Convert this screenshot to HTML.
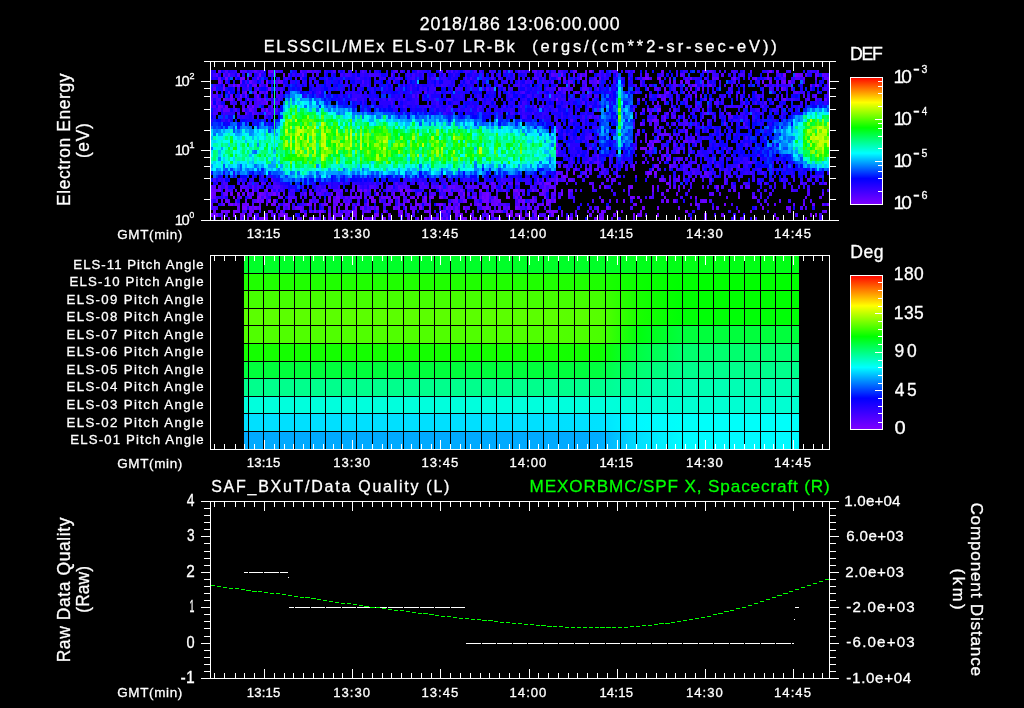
<!DOCTYPE html><html><head><meta charset="utf-8"><style>html,body{margin:0;padding:0;background:#000;overflow:hidden}svg{display:block}text{font-family:"Liberation Sans",Arial,sans-serif;stroke:currentColor;stroke-width:0.3px}</style></head><body>
<svg width="1024" height="708" viewBox="0 0 1024 708">
<rect x="0" y="0" width="1024" height="708" fill="#000"/>
<g shape-rendering="crispEdges">
<path stroke="#7600ff" stroke-width="3" d="M271 71.5h2M589 71.5h3M769 71.5h3M225 78.5h3M240 78.5h5M558 78.5h3M580 78.5h2M645 78.5h4M659 78.5h2M233 85.5h2M237 85.5h3M266 85.5h2M695 85.5h2M815 85.5h2M245 92.5h2M223 99.5h2M556 99.5h2M247 106.5h2M252 106.5h2M654 120.5h3M645 134.5h2M654 141.5h3M640 148.5h7M649 148.5h3M664 155.5h2M652 169.5h2M563 176.5h3M678 176.5h2M546 183.5h3M556 183.5h2M666 183.5h3M240 190.5h2M252 190.5h2M266 190.5h2M360 190.5h2M400 190.5h3M479 190.5h3M515 190.5h3M554 190.5h2M568 190.5h2M652 190.5h2M666 190.5h3M211 197.5h2M233 197.5h2M257 197.5h4M264 197.5h2M328 197.5h3M336 197.5h4M352 197.5h3M371 197.5h3M386 197.5h2M393 197.5h2M398 197.5h2M412 197.5h3M417 197.5h2M424 197.5h3M431 197.5h3M439 197.5h2M482 197.5h2M486 197.5h3M494 197.5h2M506 197.5h4M520 197.5h2M544 197.5h2M630 197.5h3M637 197.5h3M664 197.5h2M695 197.5h2M230 204.5h3M235 204.5h2M247 204.5h2M271 204.5h2M307 204.5h2M314 204.5h2M326 204.5h2M367 204.5h2M403 204.5h2M415 204.5h4M429 204.5h2M439 204.5h4M458 204.5h2M470 204.5h2M496 204.5h2M542 204.5h2M546 204.5h3M635 204.5h2M695 204.5h2M724 204.5h2M221 211.5h2M228 211.5h2M233 211.5h4M252 211.5h2M268 211.5h3M300 211.5h2M314 211.5h2M319 211.5h2M338 211.5h2M352 211.5h5M383 211.5h3M398 211.5h5M427 211.5h2M441 211.5h2M455 211.5h5M465 211.5h2M472 211.5h2M484 211.5h2M491 211.5h3M496 211.5h5M510 211.5h3M532 211.5h2M546 211.5h10M597 211.5h2M601 211.5h3M616 211.5h2M621 211.5h2M640 211.5h2M685 211.5h3M738 211.5h2M750 211.5h2M221 218.5h2M240 218.5h2M247 218.5h2M259 218.5h9M278 218.5h2M285 218.5h3M314 218.5h2M328 218.5h3M333 218.5h3M350 218.5h2M364 218.5h5M371 218.5h3M383 218.5h3M407 218.5h3M417 218.5h2M424 218.5h3M436 218.5h3M463 218.5h4M472 218.5h5M479 218.5h3M498 218.5h3M544 218.5h2M566 218.5h2M570 218.5h3M599 218.5h5M678 218.5h2M776 218.5h3"/>
<path stroke="#7600ff" stroke-width="4" d="M259 75h2M561 75h2M783 75h3M795 75h3M218 82h3M240 82h2M266 82h2M597 82h2M762 82h2M783 82h3M788 82h3M223 89h2M268 89h3M664 89h2M781 89h2M230 96h3M240 96h2M257 96h2M695 96h2M266 103h2M657 103h2M266 110h2M657 110h4M556 131h2M657 138h2M669 138h2M652 145h2M556 152h2M669 166h2M573 173h2M647 173h5M654 173h3M439 187h2M599 187h2M630 187h3M652 187h2M716 187h3M211 194h2M237 194h3M247 194h2M252 194h2M259 194h2M273 194h3M376 194h3M403 194h2M458 194h2M463 194h2M486 194h3M518 194h2M561 194h2M257 201h2M268 201h3M273 201h3M328 201h3M338 201h2M371 201h3M391 201h2M407 201h3M465 201h2M484 201h5M498 201h3M518 201h2M522 201h3M549 201h2M554 201h2M666 201h3M242 208h5M249 208h3M254 208h3M333 208h3M345 208h3M355 208h2M362 208h2M376 208h3M393 208h2M398 208h2M405 208h2M419 208h3M429 208h2M446 208h2M451 208h2M463 208h2M486 208h3M515 208h3M606 208h3M642 208h3M657 208h2M762 208h2M211 215h2M216 215h2M233 215h2M242 215h3M249 215h3M280 215h8M304 215h3M319 215h2M328 215h3M352 215h5M374 215h5M388 215h3M400 215h3M407 215h3M429 215h2M455 215h3M460 215h3M470 215h2M506 215h7M515 215h3M520 215h2M534 215h3M551 215h3M633 215h2M640 215h2M657 215h2M810 215h2M815 215h2"/>
<path stroke="#6900ff" stroke-width="3" d="M218 71.5h3M268 71.5h3M575 71.5h2M585 71.5h2M661 71.5h3M704 71.5h3M776 71.5h3M218 78.5h3M257 78.5h2M657 78.5h2M690 78.5h2M733 78.5h3M755 78.5h2M767 78.5h2M827 78.5h2M223 85.5h2M247 85.5h2M254 85.5h3M688 85.5h2M692 85.5h3M709 85.5h3M731 85.5h2M764 85.5h3M810 85.5h2M817 85.5h2M254 92.5h3M266 92.5h2M666 92.5h3M230 99.5h3M264 99.5h2M664 99.5h2M783 99.5h3M218 106.5h5M225 106.5h3M652 120.5h2M664 120.5h2M659 127.5h2M664 134.5h5M649 141.5h3M657 141.5h2M683 141.5h5M669 155.5h2M659 162.5h2M585 169.5h2M597 169.5h2M633 169.5h2M580 176.5h2M587 176.5h2M609 176.5h2M616 176.5h2M491 183.5h3M544 183.5h2M549 183.5h2M211 190.5h5M218 190.5h3M271 190.5h2M364 190.5h3M374 190.5h2M405 190.5h5M429 190.5h2M443 190.5h3M448 190.5h3M460 190.5h3M513 190.5h2M532 190.5h2M537 190.5h2M542 190.5h2M561 190.5h2M357 197.5h3M369 197.5h2M381 197.5h5M388 197.5h3M429 197.5h2M441 197.5h2M472 197.5h5M484 197.5h2M515 197.5h3M532 197.5h2M633 197.5h2M738 197.5h2M752 197.5h3M805 197.5h2M223 204.5h2M242 204.5h5M266 204.5h2M273 204.5h3M285 204.5h5M309 204.5h3M324 204.5h2M336 204.5h2M340 204.5h3M345 204.5h5M386 204.5h5M398 204.5h2M427 204.5h2M448 204.5h3M477 204.5h2M486 204.5h3M491 204.5h5M527 204.5h3M690 204.5h2M803 204.5h2M812 204.5h3M827 204.5h2M213 211.5h3M223 211.5h5M249 211.5h3M276 211.5h2M280 211.5h3M321 211.5h3M348 211.5h2M367 211.5h2M412 211.5h3M424 211.5h3M429 211.5h2M443 211.5h3M506 211.5h2M556 211.5h2M561 211.5h2M575 211.5h2M592 211.5h2M824 211.5h3M228 218.5h2M252 218.5h5M309 218.5h3M441 218.5h2M446 218.5h2M460 218.5h3M486 218.5h3M494 218.5h2M520 218.5h2M530 218.5h2M546 218.5h3M594 218.5h3M633 218.5h2M690 218.5h2M704 218.5h3M805 218.5h2"/>
<path stroke="#6900ff" stroke-width="4" d="M228 75h2M283 75h2M580 75h2M585 75h2M645 75h2M767 75h2M798 75h5M815 75h2M822 75h2M249 82h3M278 82h5M568 82h2M669 82h2M680 82h3M685 82h3M702 82h2M769 82h3M558 89h3M647 89h2M690 89h2M245 96h2M271 96h2M659 96h2M700 96h2M211 103h2M242 110h3M249 110h3M647 110h2M664 117h2M640 124h2M724 124h2M637 131h3M685 131h3M645 138h2M556 145h2M652 159h2M666 159h3M633 166h2M654 166h3M556 173h2M704 173h3M556 180h2M568 180h2M659 180h5M448 187h3M453 187h2M494 187h2M501 187h2M592 187h2M604 187h2M628 187h2M669 187h2M678 187h2M683 187h2M213 194h3M225 194h3M230 194h3M261 194h3M278 194h2M331 194h2M336 194h2M360 194h2M393 194h2M417 194h2M482 194h4M506 194h2M542 194h2M568 194h2M676 194h2M225 201h3M261 201h3M333 201h5M367 201h2M374 201h2M398 201h2M415 201h2M424 201h3M455 201h3M463 201h2M482 201h2M494 201h4M532 201h2M546 201h3M601 201h3M623 201h2M640 201h2M673 201h3M702 201h5M237 208h3M259 208h2M288 208h2M295 208h7M338 208h2M371 208h3M410 208h2M439 208h2M455 208h3M482 208h4M498 208h3M508 208h2M518 208h2M527 208h3M537 208h2M597 208h2M678 208h2M716 208h3M786 208h5M213 215h3M240 215h2M333 215h3M362 215h2M491 215h3M518 215h2M527 215h3M589 215h3M601 215h3M613 215h3M704 215h3M721 215h3"/>
<path stroke="#5c00ff" stroke-width="3" d="M240 71.5h2M254 71.5h3M300 71.5h2M307 71.5h2M395 71.5h3M446 71.5h2M534 71.5h3M709 71.5h3M817 71.5h2M300 78.5h2M563 78.5h3M599 78.5h2M642 78.5h3M669 78.5h2M712 78.5h2M716 78.5h3M803 78.5h2M815 78.5h2M824 78.5h3M252 85.5h2M259 85.5h2M556 85.5h2M573 85.5h2M585 85.5h2M702 85.5h2M707 85.5h2M216 92.5h2M228 92.5h2M259 92.5h2M556 92.5h2M575 92.5h2M683 92.5h2M688 92.5h2M692 92.5h3M738 92.5h2M795 92.5h3M247 99.5h2M257 99.5h4M661 99.5h3M683 99.5h2M824 99.5h3M271 106.5h2M654 106.5h3M695 106.5h2M745 106.5h3M786 106.5h2M245 113.5h2M252 113.5h2M268 113.5h3M649 113.5h3M666 113.5h3M704 113.5h3M728 113.5h3M657 120.5h2M654 127.5h3M659 134.5h5M695 134.5h2M645 141.5h2M692 141.5h3M589 148.5h3M635 148.5h2M666 148.5h3M678 148.5h2M597 155.5h2M597 162.5h2M642 162.5h3M673 162.5h3M678 162.5h2M575 169.5h2M566 176.5h2M635 176.5h2M647 176.5h2M669 176.5h2M707 176.5h2M724 176.5h2M422 183.5h2M508 183.5h2M539 183.5h3M589 183.5h3M724 183.5h2M824 183.5h3M216 190.5h2M225 190.5h3M247 190.5h2M276 190.5h2M309 190.5h3M324 190.5h2M340 190.5h3M357 190.5h3M410 190.5h2M439 190.5h2M446 190.5h2M496 190.5h2M520 190.5h5M544 190.5h2M570 190.5h3M628 190.5h2M678 190.5h2M688 190.5h2M733 190.5h3M213 197.5h3M240 197.5h2M249 197.5h3M278 197.5h5M288 197.5h2M345 197.5h3M350 197.5h2M360 197.5h2M395 197.5h3M410 197.5h2M455 197.5h3M460 197.5h3M568 197.5h2M649 197.5h3M726 197.5h2M755 197.5h2M819 197.5h3M211 204.5h2M237 204.5h3M259 204.5h2M278 204.5h2M283 204.5h2M333 204.5h3M357 204.5h3M419 204.5h3M436 204.5h3M479 204.5h3M518 204.5h2M522 204.5h3M537 204.5h2M633 204.5h2M767 204.5h2M774 204.5h2M793 204.5h2M822 204.5h2M237 211.5h3M302 211.5h2M309 211.5h3M343 211.5h2M489 211.5h2M501 211.5h2M534 211.5h3M587 211.5h2M604 211.5h2M788 211.5h3M288 218.5h2M297 218.5h5M312 218.5h2M343 218.5h2M369 218.5h2M429 218.5h5M537 218.5h2M733 218.5h3M743 218.5h2"/>
<path stroke="#5c00ff" stroke-width="4" d="M216 75h2M223 75h2M237 75h3M273 75h3M302 75h2M391 75h2M551 75h3M573 75h2M680 75h3M721 75h3M805 75h2M824 75h3M659 82h2M673 82h3M688 82h2M707 82h2M776 82h3M781 82h2M827 82h2M213 89h3M657 89h2M697 89h3M702 89h2M664 96h2M803 96h2M815 96h2M276 103h2M218 110h3M223 110h7M261 110h3M597 110h2M652 110h2M673 117h3M678 117h2M683 117h2M743 124h2M664 131h2M647 145h2M673 145h3M666 152h3M676 152h4M669 159h2M657 166h2M738 166h2M566 173h2M585 173h2M537 180h2M542 180h2M570 180h3M611 180h5M669 180h2M676 180h4M692 180h3M211 187h5M218 187h3M225 187h3M240 187h2M252 187h2M391 187h2M398 187h2M405 187h2M451 187h2M467 187h3M477 187h2M484 187h5M544 187h2M549 187h7M657 187h2M702 187h2M748 187h2M223 194h2M242 194h3M264 194h2M268 194h5M304 194h3M309 194h3M319 194h2M338 194h2M355 194h2M419 194h3M448 194h5M467 194h3M539 194h3M554 194h2M661 194h3M712 194h2M719 194h2M822 194h2M216 201h2M221 201h2M228 201h2M245 201h2M259 201h2M290 201h2M309 201h3M343 201h2M348 201h2M379 201h2M388 201h3M403 201h2M422 201h2M453 201h2M491 201h3M520 201h2M530 201h2M609 201h2M661 201h3M700 201h2M779 201h2M252 208h2M257 208h2M283 208h2M314 208h2M328 208h3M360 208h2M395 208h3M412 208h3M448 208h3M467 208h3M489 208h2M503 208h3M257 215h2M266 215h2M271 215h2M336 215h7M345 215h5M486 215h3M525 215h2M561 215h2M599 215h2M637 215h3M774 215h2"/>
<path stroke="#4f00ff" stroke-width="3" d="M225 71.5h3M245 71.5h2M276 71.5h2M309 71.5h3M314 71.5h2M333 71.5h3M362 71.5h2M417 71.5h2M439 71.5h2M451 71.5h2M474 71.5h3M489 71.5h2M503 71.5h3M518 71.5h2M546 71.5h3M558 71.5h3M573 71.5h2M599 71.5h2M613 71.5h3M628 71.5h2M633 71.5h2M750 71.5h2M247 78.5h2M398 78.5h2M470 78.5h2M491 78.5h3M534 78.5h5M585 78.5h2M594 78.5h3M628 78.5h2M649 78.5h3M685 78.5h3M714 78.5h2M731 78.5h2M752 78.5h3M781 78.5h2M795 78.5h5M228 85.5h2M498 85.5h3M568 85.5h2M635 85.5h2M640 85.5h2M673 85.5h5M736 85.5h2M776 85.5h3M827 85.5h2M242 92.5h3M261 92.5h3M280 92.5h3M319 92.5h2M424 92.5h3M522 92.5h3M563 92.5h3M568 92.5h2M589 92.5h3M635 92.5h2M676 92.5h2M731 92.5h2M755 92.5h2M793 92.5h2M211 99.5h2M218 99.5h3M225 99.5h5M237 99.5h3M268 99.5h3M278 99.5h2M355 99.5h2M388 99.5h3M592 99.5h2M637 99.5h3M642 99.5h3M704 99.5h3M740 99.5h3M774 99.5h2M807 99.5h3M815 99.5h2M213 106.5h3M233 106.5h2M242 106.5h3M257 106.5h2M520 106.5h2M534 106.5h3M542 106.5h2M566 106.5h2M589 106.5h3M671 106.5h2M690 106.5h2M707 106.5h2M762 106.5h2M237 113.5h3M640 113.5h2M671 113.5h2M683 113.5h2M570 120.5h3M647 120.5h2M683 120.5h2M683 127.5h2M597 134.5h2M637 134.5h3M652 134.5h2M678 134.5h2M652 141.5h2M659 141.5h2M678 141.5h2M652 148.5h2M683 148.5h2M731 148.5h2M642 155.5h3M661 155.5h3M587 162.5h2M594 162.5h3M621 162.5h2M695 162.5h2M712 162.5h2M748 162.5h4M589 169.5h3M594 169.5h3M604 169.5h2M657 169.5h2M676 169.5h2M683 169.5h2M731 169.5h2M556 176.5h2M561 176.5h2M604 176.5h2M654 176.5h3M688 176.5h2M695 176.5h2M700 176.5h2M223 183.5h2M261 183.5h3M395 183.5h3M403 183.5h2M446 183.5h2M455 183.5h3M472 183.5h2M484 183.5h2M494 183.5h2M503 183.5h3M510 183.5h3M518 183.5h2M592 183.5h2M601 183.5h3M669 183.5h2M690 183.5h2M800 183.5h3M805 183.5h2M235 190.5h2M245 190.5h2M257 190.5h2M264 190.5h2M321 190.5h3M333 190.5h7M352 190.5h3M369 190.5h2M386 190.5h5M398 190.5h2M453 190.5h7M503 190.5h3M518 190.5h2M546 190.5h3M728 190.5h3M791 190.5h2M807 190.5h3M290 197.5h5M300 197.5h2M314 197.5h2M333 197.5h3M355 197.5h2M364 197.5h3M446 197.5h2M463 197.5h2M479 197.5h3M496 197.5h2M551 197.5h3M558 197.5h3M599 197.5h2M690 197.5h2M228 204.5h2M233 204.5h2M252 204.5h2M321 204.5h3M352 204.5h3M383 204.5h3M424 204.5h3M453 204.5h2M474 204.5h3M501 204.5h5M515 204.5h3M539 204.5h3M549 204.5h2M697 204.5h3M760 204.5h2M271 211.5h2M328 211.5h3M333 211.5h3M345 211.5h3M362 211.5h5M369 211.5h2M405 211.5h2M448 211.5h3M453 211.5h2M494 211.5h2M520 211.5h2M822 211.5h2M319 218.5h2M324 218.5h2M355 218.5h2M374 218.5h2M427 218.5h2M455 218.5h3M522 218.5h3M534 218.5h3M568 218.5h2M611 218.5h2M740 218.5h3M755 218.5h2"/>
<path stroke="#4f00ff" stroke-width="4" d="M249 75h3M288 75h2M312 75h2M554 75h4M616 75h2M647 75h2M661 75h3M740 75h3M817 75h2M261 82h3M273 82h3M362 82h2M393 82h2M563 82h3M570 82h3M582 82h3M589 82h3M594 82h3M640 82h2M257 89h2M486 89h3M563 89h5M582 89h7M597 89h2M654 89h3M685 89h3M769 89h3M783 89h3M791 89h2M213 96h5M221 96h2M276 96h2M412 96h3M417 96h2M587 96h2M645 96h2M657 96h2M690 96h2M736 96h2M748 96h2M781 96h2M216 103h2M249 103h3M257 103h2M261 103h5M273 103h3M278 103h2M582 103h3M652 103h2M664 103h2M695 103h2M714 103h5M743 103h2M764 103h3M235 110h2M252 110h2M276 110h2M477 110h2M633 110h2M642 110h3M669 110h2M673 110h3M702 110h2M724 110h2M264 117h2M589 117h3M597 117h2M654 117h3M714 117h2M728 117h5M649 124h3M654 124h5M673 124h3M685 124h3M695 124h2M702 124h2M556 138h2M589 138h3M635 138h2M671 138h2M692 138h3M695 145h2M700 145h2M659 152h2M690 152h2M726 152h2M589 159h3M597 159h2M657 159h2M661 159h3M678 159h2M685 159h3M695 159h2M558 166h3M566 166h2M589 166h3M597 166h2M609 166h2M671 166h5M558 173h5M582 173h3M601 173h3M616 173h2M692 173h3M707 173h2M724 173h2M271 180h2M551 180h3M563 180h3M573 180h2M606 180h3M664 180h2M683 180h2M709 180h3M724 180h2M807 180h3M242 187h5M257 187h2M273 187h7M352 187h3M357 187h3M369 187h5M388 187h3M400 187h3M419 187h3M424 187h3M431 187h3M436 187h3M441 187h2M455 187h5M470 187h7M482 187h2M491 187h3M530 187h2M673 187h3M740 187h3M745 187h3M283 194h2M316 194h3M350 194h2M400 194h3M407 194h3M431 194h5M489 194h2M513 194h5M544 194h2M551 194h3M652 194h2M709 194h3M738 194h2M769 194h3M807 194h3M235 201h2M254 201h3M288 201h2M316 201h3M324 201h2M451 201h2M474 201h3M534 201h3M551 201h3M592 201h2M616 201h2M803 201h2M810 201h2M213 208h3M302 208h2M367 208h2M415 208h2M465 208h2M506 208h2M530 208h2M534 208h3M544 208h2M609 208h2M630 208h3M712 208h2M800 208h3M805 208h2M221 215h2M225 215h3M273 215h3M398 215h2M443 215h5M542 215h2M575 215h2M645 215h2"/>
<path stroke="#4200ff" stroke-width="3" d="M242 71.5h3M252 71.5h2M257 71.5h2M261 71.5h3M273 71.5h3M316 71.5h3M393 71.5h2M400 71.5h3M441 71.5h2M465 71.5h5M479 71.5h3M494 71.5h2M510 71.5h3M522 71.5h3M532 71.5h2M539 71.5h3M561 71.5h2M712 71.5h2M719 71.5h2M724 71.5h2M731 71.5h5M743 71.5h2M767 71.5h2M788 71.5h3M810 71.5h2M285 78.5h3M295 78.5h2M357 78.5h3M395 78.5h3M412 78.5h3M431 78.5h5M465 78.5h2M498 78.5h3M518 78.5h2M556 78.5h2M637 78.5h3M704 78.5h3M748 78.5h2M769 78.5h3M783 78.5h3M213 85.5h3M230 85.5h3M235 85.5h2M283 85.5h2M367 85.5h2M374 85.5h2M403 85.5h2M441 85.5h2M515 85.5h5M594 85.5h3M649 85.5h3M661 85.5h3M724 85.5h2M743 85.5h2M772 85.5h2M788 85.5h3M276 92.5h2M360 92.5h2M508 92.5h2M520 92.5h2M577 92.5h3M582 92.5h3M664 92.5h2M714 92.5h2M743 92.5h2M798 92.5h2M803 92.5h2M827 92.5h2M216 99.5h2M240 99.5h2M254 99.5h3M261 99.5h3M352 99.5h3M403 99.5h2M434 99.5h2M448 99.5h3M467 99.5h3M479 99.5h3M551 99.5h3M568 99.5h2M580 99.5h2M671 99.5h2M690 99.5h2M709 99.5h3M757 99.5h3M781 99.5h2M791 99.5h2M805 99.5h2M211 106.5h2M249 106.5h3M254 106.5h3M395 106.5h3M403 106.5h2M429 106.5h2M448 106.5h3M479 106.5h3M503 106.5h3M700 106.5h2M724 106.5h2M728 106.5h5M736 106.5h2M776 106.5h5M213 113.5h5M223 113.5h2M254 113.5h5M266 113.5h2M443 113.5h3M510 113.5h3M518 113.5h2M532 113.5h2M635 113.5h2M709 113.5h3M736 113.5h2M228 120.5h2M556 120.5h2M649 120.5h3M685 120.5h3M700 120.5h2M707 120.5h2M714 120.5h2M556 127.5h2M690 127.5h2M745 127.5h3M563 134.5h3M589 134.5h3M673 134.5h3M685 134.5h3M587 141.5h2M640 141.5h2M688 141.5h4M661 148.5h3M676 148.5h2M688 148.5h2M724 148.5h2M556 155.5h2M577 155.5h3M621 155.5h2M724 155.5h2M757 155.5h3M556 162.5h2M585 162.5h2M599 162.5h2M647 162.5h2M683 162.5h2M690 162.5h2M568 169.5h2M573 169.5h2M611 169.5h2M616 169.5h2M625 169.5h3M659 169.5h2M690 169.5h5M712 169.5h2M719 169.5h2M724 169.5h4M772 169.5h2M577 176.5h3M702 176.5h5M728 176.5h3M819 176.5h3M225 183.5h3M247 183.5h5M264 183.5h2M273 183.5h3M340 183.5h3M374 183.5h2M381 183.5h2M419 183.5h3M467 183.5h3M482 183.5h2M515 183.5h3M537 183.5h2M566 183.5h2M575 183.5h2M611 183.5h2M618 183.5h3M731 183.5h2M743 183.5h2M760 183.5h2M764 183.5h3M774 183.5h2M819 183.5h3M228 190.5h5M280 190.5h3M290 190.5h5M316 190.5h3M350 190.5h2M367 190.5h2M379 190.5h2M393 190.5h2M412 190.5h3M491 190.5h3M534 190.5h3M575 190.5h2M592 190.5h2M611 190.5h2M623 190.5h2M757 190.5h3M764 190.5h3M827 190.5h2M223 197.5h2M237 197.5h3M261 197.5h3M266 197.5h2M295 197.5h2M319 197.5h2M340 197.5h3M348 197.5h2M403 197.5h4M489 197.5h2M645 197.5h2M652 197.5h2M680 197.5h3M760 197.5h2M221 204.5h2M304 204.5h3M364 204.5h3M455 204.5h3M498 204.5h3M532 204.5h2M731 204.5h2M245 211.5h2M316 211.5h3M376 211.5h3M477 211.5h2M213 218.5h3M273 218.5h3M345 218.5h3M381 218.5h2M388 218.5h3M434 218.5h2M513 218.5h2M618 218.5h3M819 218.5h3"/>
<path stroke="#4200ff" stroke-width="4" d="M213 75h3M268 75h3M316 75h3M340 75h3M345 75h5M369 75h10M412 75h3M434 75h2M443 75h3M482 75h2M491 75h3M498 75h3M513 75h2M534 75h3M539 75h3M582 75h3M599 75h2M604 75h2M683 75h2M712 75h4M743 75h2M779 75h2M827 75h2M221 82h2M225 82h3M245 82h2M252 82h2M271 82h2M276 82h2M467 82h3M474 82h3M506 82h2M518 82h2M525 82h2M530 82h2M537 82h2M542 82h2M551 82h3M585 82h2M592 82h2M613 82h3M719 82h2M733 82h3M738 82h2M793 82h2M803 82h2M237 89h3M247 89h2M276 89h2M280 89h3M410 89h2M434 89h2M455 89h5M482 89h2M491 89h3M503 89h3M546 89h3M554 89h2M568 89h5M673 89h3M728 89h3M776 89h3M824 89h3M211 96h2M254 96h3M264 96h2M278 96h2M527 96h3M544 96h2M551 96h3M594 96h5M649 96h3M661 96h3M676 96h2M724 96h2M757 96h3M762 96h2M776 96h3M812 96h3M827 96h2M230 103h3M242 103h3M254 103h3M259 103h2M391 103h2M436 103h3M522 103h3M597 103h2M676 103h2M685 103h3M755 103h2M216 110h2M271 110h5M446 110h2M522 110h3M556 110h2M697 110h3M757 110h3M271 117h2M522 117h3M582 117h3M594 117h3M661 117h3M671 117h2M702 117h2M633 124h2M642 124h3M678 124h2M683 124h2M731 124h2M707 131h2M577 138h3M585 138h4M676 138h2M685 138h3M745 138h3M649 145h3M745 145h3M587 152h2M645 152h2M649 152h3M716 152h3M609 159h2M676 159h2M680 159h3M712 159h2M563 166h3M601 166h3M621 166h2M630 166h3M683 166h7M697 166h3M716 166h3M589 173h3M645 173h2M685 173h3M709 173h3M750 173h2M762 173h2M213 180h3M223 180h2M240 180h2M348 180h2M501 180h2M549 180h2M554 180h2M561 180h2M673 180h3M702 180h2M726 180h2M781 180h2M793 180h2M815 180h2M247 187h2M259 187h2M266 187h2M319 187h2M328 187h3M338 187h2M374 187h2M381 187h2M386 187h2M403 187h2M407 187h3M422 187h2M427 187h2M434 187h2M446 187h2M542 187h2M546 187h3M606 187h3M707 187h2M721 187h3M733 187h3M783 187h3M791 187h2M798 187h2M249 194h3M257 194h2M288 194h2M300 194h2M312 194h2M321 194h3M340 194h3M364 194h5M391 194h2M429 194h2M441 194h2M460 194h3M474 194h3M479 194h3M496 194h2M522 194h3M628 194h2M752 194h3M211 201h2M252 201h2M295 201h2M302 201h2M345 201h3M357 201h3M405 201h2M460 201h3M477 201h2M515 201h3M709 201h3M757 201h3M764 201h3M211 208h2M216 208h2M276 208h2M285 208h3M292 208h3M369 208h2M374 208h2M453 208h2M458 208h2M494 208h2M520 208h5M549 208h2M589 208h3M594 208h3M755 208h2M247 215h2M264 215h2M278 215h2M412 215h3M436 215h3M458 215h2M472 215h2M482 215h2M539 215h3M544 215h2M570 215h3M688 215h2M795 215h3M819 215h3"/>
<path stroke="#3500ff" stroke-width="3" d="M235 71.5h2M249 71.5h3M259 71.5h2M278 71.5h5M302 71.5h5M312 71.5h2M324 71.5h2M338 71.5h2M343 71.5h2M348 71.5h4M355 71.5h2M360 71.5h2M364 71.5h3M374 71.5h2M407 71.5h3M419 71.5h3M455 71.5h3M520 71.5h2M527 71.5h3M542 71.5h2M551 71.5h5M592 71.5h2M611 71.5h2M616 71.5h2M621 71.5h2M625 71.5h3M645 71.5h2M676 71.5h2M683 71.5h2M702 71.5h2M736 71.5h2M786 71.5h2M812 71.5h3M235 78.5h2M278 78.5h2M312 78.5h2M326 78.5h2M355 78.5h2M374 78.5h2M379 78.5h2M383 78.5h3M388 78.5h3M410 78.5h2M427 78.5h2M441 78.5h5M482 78.5h2M506 78.5h2M513 78.5h2M542 78.5h2M549 78.5h2M568 78.5h2M573 78.5h2M577 78.5h3M604 78.5h2M621 78.5h2M688 78.5h2M695 78.5h2M764 78.5h3M791 78.5h4M800 78.5h3M261 85.5h3M316 85.5h3M343 85.5h5M360 85.5h4M391 85.5h2M410 85.5h2M415 85.5h2M431 85.5h3M436 85.5h3M443 85.5h5M453 85.5h2M463 85.5h2M470 85.5h2M501 85.5h2M513 85.5h2M522 85.5h3M539 85.5h3M582 85.5h3M592 85.5h2M645 85.5h2M714 85.5h2M719 85.5h2M781 85.5h7M211 92.5h2M252 92.5h2M264 92.5h2M309 92.5h3M316 92.5h3M345 92.5h5M352 92.5h3M417 92.5h2M429 92.5h5M436 92.5h5M498 92.5h3M539 92.5h5M549 92.5h2M561 92.5h2M609 92.5h2M637 92.5h3M695 92.5h2M762 92.5h2M772 92.5h2M800 92.5h3M817 92.5h2M233 99.5h2M273 99.5h3M362 99.5h2M369 99.5h2M374 99.5h2M383 99.5h3M391 99.5h4M398 99.5h2M415 99.5h4M429 99.5h2M446 99.5h2M451 99.5h2M491 99.5h3M496 99.5h2M513 99.5h2M525 99.5h2M537 99.5h2M561 99.5h5M573 99.5h2M587 99.5h2M676 99.5h2M685 99.5h3M716 99.5h3M721 99.5h3M750 99.5h2M786 99.5h2M793 99.5h2M819 99.5h3M268 106.5h3M391 106.5h2M405 106.5h2M424 106.5h3M436 106.5h3M472 106.5h2M477 106.5h2M484 106.5h2M496 106.5h2M513 106.5h2M522 106.5h3M530 106.5h2M539 106.5h3M549 106.5h2M563 106.5h3M633 106.5h2M657 106.5h2M733 106.5h3M738 106.5h5M750 106.5h2M798 106.5h2M225 113.5h5M247 113.5h2M271 113.5h5M501 113.5h2M513 113.5h2M522 113.5h3M542 113.5h4M561 113.5h2M570 113.5h3M585 113.5h2M592 113.5h2M692 113.5h3M702 113.5h2M712 113.5h2M721 113.5h3M740 113.5h5M748 113.5h2M760 113.5h2M781 113.5h2M223 120.5h2M582 120.5h3M597 120.5h2M661 120.5h3M695 120.5h2M724 120.5h2M733 120.5h5M745 120.5h3M558 127.5h3M573 127.5h2M592 127.5h5M633 127.5h2M661 127.5h3M688 127.5h2M697 127.5h3M712 127.5h2M568 134.5h2M587 134.5h2M669 134.5h2M712 134.5h2M719 134.5h2M582 141.5h3M594 141.5h3M635 141.5h2M669 141.5h2M673 141.5h3M740 141.5h3M558 148.5h3M573 148.5h2M673 148.5h3M728 148.5h3M563 155.5h3M594 155.5h3M609 155.5h4M695 155.5h2M700 155.5h4M731 155.5h2M558 162.5h3M570 162.5h3M609 162.5h2M623 162.5h2M635 162.5h2M664 162.5h2M692 162.5h3M707 162.5h2M740 162.5h3M745 162.5h3M752 162.5h3M772 162.5h2M776 162.5h3M781 162.5h2M577 169.5h3M587 169.5h2M601 169.5h3M669 169.5h2M678 169.5h2M685 169.5h3M695 169.5h5M702 169.5h2M738 169.5h5M757 169.5h3M767 169.5h2M783 169.5h3M261 176.5h3M554 176.5h2M661 176.5h3M683 176.5h2M690 176.5h2M714 176.5h2M740 176.5h3M752 176.5h3M793 176.5h2M805 176.5h2M812 176.5h5M216 183.5h2M237 183.5h3M242 183.5h3M254 183.5h5M276 183.5h4M328 183.5h3M352 183.5h3M369 183.5h2M405 183.5h2M412 183.5h3M427 183.5h2M431 183.5h3M443 183.5h3M453 183.5h2M463 183.5h2M479 183.5h3M489 183.5h2M525 183.5h5M534 183.5h3M745 183.5h3M812 183.5h3M283 190.5h2M326 190.5h2M345 190.5h3M362 190.5h2M391 190.5h2M395 190.5h3M422 190.5h2M441 190.5h2M463 190.5h2M472 190.5h2M501 190.5h2M580 190.5h2M594 190.5h3M657 190.5h2M716 190.5h3M772 190.5h2M793 190.5h5M216 197.5h5M247 197.5h2M304 197.5h3M312 197.5h2M343 197.5h2M379 197.5h2M422 197.5h2M443 197.5h3M491 197.5h3M513 197.5h2M534 197.5h3M554 197.5h2M570 197.5h5M292 204.5h3M302 204.5h2M400 204.5h3M410 204.5h2M443 204.5h3M506 204.5h4M824 204.5h3M242 211.5h3M259 211.5h2M350 211.5h2M692 211.5h3M728 211.5h3M767 211.5h2M242 218.5h3M316 218.5h3M331 218.5h2M443 218.5h3M496 218.5h2M532 218.5h2"/>
<path stroke="#3500ff" stroke-width="4" d="M225 75h3M230 75h5M257 75h2M292 75h3M297 75h3M350 75h2M355 75h2M360 75h4M379 75h2M407 75h3M417 75h2M422 75h2M453 75h2M465 75h2M472 75h2M508 75h2M525 75h2M597 75h2M640 75h2M676 75h2M716 75h3M733 75h3M776 75h3M254 82h3M290 82h2M302 82h2M309 82h3M314 82h2M326 82h2M340 82h3M345 82h3M367 82h2M388 82h3M403 82h2M407 82h3M436 82h3M443 82h8M465 82h2M503 82h3M527 82h3M544 82h5M599 82h2M757 82h3M791 82h2M815 82h2M211 89h2M254 89h3M278 89h2M300 89h2M357 89h3M395 89h3M419 89h3M424 89h3M429 89h5M460 89h3M508 89h5M525 89h2M549 89h5M561 89h2M659 89h2M671 89h2M762 89h2M772 89h2M810 89h2M827 89h2M280 96h3M316 96h3M352 96h10M400 96h3M429 96h2M460 96h3M470 96h2M477 96h2M498 96h3M508 96h5M530 96h2M534 96h3M558 96h3M580 96h2M589 96h3M666 96h3M719 96h2M740 96h3M786 96h2M807 96h3M218 103h3M235 103h2M240 103h2M271 103h2M362 103h2M398 103h2M407 103h3M415 103h4M446 103h2M453 103h5M486 103h5M494 103h2M518 103h2M525 103h2M542 103h2M556 103h2M566 103h2M587 103h2M671 103h2M700 103h2M721 103h3M760 103h2M772 103h2M800 103h3M815 103h2M824 103h3M213 110h3M233 110h2M247 110h2M254 110h3M264 110h2M434 110h2M448 110h3M458 110h2M465 110h2M501 110h2M510 110h3M534 110h3M544 110h2M554 110h2M587 110h2M649 110h3M688 110h2M707 110h2M755 110h2M772 110h4M223 117h2M242 117h3M252 117h2M257 117h2M266 117h2M525 117h2M542 117h2M554 117h2M561 117h2M587 117h2M688 117h2M740 117h3M745 117h3M752 117h3M781 117h2M556 124h5M582 124h3M666 124h3M680 124h3M707 124h2M654 131h3M659 131h2M680 131h3M702 131h2M714 131h2M719 131h2M563 138h3M570 138h3M690 138h2M702 138h2M633 145h2M661 145h5M680 145h3M688 145h2M697 152h3M709 152h3M570 159h3M616 159h2M645 159h2M743 159h5M570 166h3M580 166h2M585 166h2M616 166h2M625 166h3M676 166h2M736 166h2M745 166h3M783 166h3M606 173h3M688 173h2M695 173h7M726 173h5M745 173h3M218 180h3M405 180h2M412 180h3M419 180h3M443 180h3M463 180h2M472 180h2M484 180h2M503 180h5M515 180h3M525 180h5M558 180h3M582 180h3M738 180h2M752 180h3M757 180h3M772 180h2M786 180h2M221 187h4M233 187h2M254 187h3M280 187h3M302 187h2M316 187h3M324 187h2M360 187h2M364 187h3M376 187h3M395 187h3M460 187h3M465 187h2M510 187h3M532 187h2M539 187h3M690 187h2M714 187h2M731 187h2M774 187h2M803 187h2M807 187h3M266 194h2M276 194h2M290 194h5M302 194h2M326 194h2M381 194h2M443 194h3M472 194h2M558 194h3M570 194h3M613 194h3M685 194h3M760 194h2M266 201h2M283 201h2M312 201h4M381 201h5M429 201h2M527 201h3M573 201h2M676 201h2M695 201h2M788 201h3M383 208h3M422 208h2M477 208h5M697 208h3M736 208h2M218 215h3M254 215h3M381 215h2M484 215h2M714 215h2M733 215h3"/>
<path stroke="#2800ff" stroke-width="3" d="M211 71.5h2M223 71.5h2M230 71.5h5M319 71.5h2M331 71.5h2M369 71.5h2M376 71.5h3M422 71.5h5M429 71.5h2M448 71.5h3M463 71.5h2M472 71.5h2M491 71.5h3M525 71.5h2M537 71.5h2M563 71.5h5M601 71.5h3M685 71.5h3M697 71.5h3M714 71.5h2M762 71.5h5M772 71.5h2M807 71.5h3M815 71.5h2M213 78.5h3M254 78.5h3M283 78.5h2M309 78.5h3M314 78.5h2M338 78.5h2M360 78.5h4M367 78.5h2M381 78.5h2M391 78.5h2M400 78.5h3M407 78.5h3M422 78.5h2M446 78.5h2M451 78.5h2M472 78.5h2M484 78.5h2M522 78.5h3M527 78.5h3M532 78.5h2M592 78.5h2M606 78.5h3M613 78.5h3M664 78.5h2M683 78.5h2M692 78.5h3M697 78.5h3M736 78.5h4M774 78.5h2M779 78.5h2M216 85.5h2M240 85.5h5M276 85.5h2M297 85.5h5M304 85.5h3M312 85.5h2M319 85.5h2M326 85.5h5M352 85.5h5M364 85.5h3M386 85.5h2M419 85.5h3M427 85.5h4M439 85.5h2M448 85.5h3M458 85.5h2M467 85.5h3M472 85.5h2M482 85.5h2M623 85.5h2M633 85.5h2M666 85.5h3M671 85.5h2M678 85.5h5M690 85.5h2M767 85.5h5M328 92.5h3M340 92.5h3M350 92.5h2M355 92.5h2M364 92.5h3M371 92.5h3M383 92.5h3M400 92.5h3M407 92.5h3M415 92.5h2M419 92.5h3M446 92.5h5M455 92.5h3M460 92.5h5M486 92.5h3M491 92.5h3M515 92.5h3M530 92.5h2M551 92.5h3M573 92.5h2M669 92.5h2M702 92.5h2M707 92.5h2M712 92.5h2M249 99.5h3M271 99.5h2M280 99.5h3M350 99.5h2M357 99.5h5M376 99.5h3M381 99.5h2M400 99.5h3M405 99.5h2M412 99.5h3M422 99.5h2M431 99.5h3M458 99.5h5M477 99.5h2M482 99.5h2M486 99.5h3M501 99.5h2M506 99.5h4M515 99.5h3M522 99.5h3M530 99.5h2M546 99.5h3M554 99.5h2M558 99.5h3M570 99.5h3M585 99.5h2M609 99.5h2M669 99.5h2M678 99.5h2M736 99.5h2M788 99.5h3M795 99.5h5M817 99.5h2M827 99.5h2M223 106.5h2M362 106.5h2M369 106.5h2M383 106.5h5M412 106.5h3M419 106.5h5M427 106.5h2M439 106.5h2M446 106.5h2M451 106.5h2M460 106.5h3M467 106.5h5M489 106.5h5M508 106.5h2M518 106.5h2M551 106.5h3M561 106.5h2M570 106.5h3M575 106.5h2M580 106.5h2M587 106.5h2M597 106.5h2M647 106.5h2M659 106.5h2M678 106.5h2M697 106.5h3M716 106.5h3M726 106.5h2M760 106.5h2M800 106.5h3M230 113.5h5M276 113.5h2M446 113.5h2M451 113.5h2M465 113.5h2M474 113.5h3M498 113.5h3M520 113.5h2M525 113.5h5M537 113.5h2M546 113.5h3M575 113.5h2M664 113.5h2M673 113.5h3M726 113.5h2M752 113.5h3M762 113.5h2M783 113.5h3M211 120.5h2M221 120.5h2M273 120.5h3M544 120.5h2M554 120.5h2M573 120.5h2M580 120.5h2M587 120.5h2M690 120.5h2M709 120.5h3M728 120.5h3M738 120.5h2M752 120.5h3M757 120.5h3M762 120.5h2M774 120.5h2M582 127.5h3M587 127.5h2M597 127.5h2M669 127.5h2M695 127.5h2M700 127.5h2M726 127.5h2M580 134.5h2M585 134.5h2M635 134.5h2M657 134.5h2M676 134.5h2M728 134.5h3M733 134.5h3M556 141.5h2M573 141.5h2M597 141.5h2M613 141.5h3M666 141.5h3M695 141.5h7M712 141.5h2M726 141.5h2M731 141.5h2M750 141.5h2M556 148.5h2M570 148.5h3M587 148.5h2M633 148.5h2M680 148.5h3M707 148.5h2M558 155.5h3M573 155.5h2M585 155.5h4M592 155.5h2M697 155.5h3M712 155.5h2M568 162.5h2M573 162.5h2M582 162.5h3M592 162.5h2M616 162.5h2M688 162.5h2M716 162.5h3M743 162.5h2M566 169.5h2M680 169.5h3M736 169.5h2M745 169.5h5M760 169.5h2M776 169.5h3M800 169.5h3M252 176.5h2M268 176.5h5M508 176.5h2M532 176.5h2M597 176.5h2M618 176.5h3M623 176.5h2M673 176.5h3M716 176.5h3M731 176.5h2M736 176.5h4M764 176.5h3M774 176.5h2M791 176.5h2M810 176.5h2M817 176.5h2M221 183.5h2M268 183.5h3M312 183.5h2M333 183.5h5M345 183.5h3M355 183.5h5M364 183.5h5M371 183.5h3M379 183.5h2M386 183.5h2M393 183.5h2M398 183.5h5M410 183.5h2M417 183.5h2M424 183.5h3M434 183.5h5M451 183.5h2M498 183.5h3M542 183.5h2M673 183.5h3M709 183.5h3M726 183.5h2M748 183.5h2M783 183.5h3M788 183.5h3M803 183.5h2M221 190.5h2M254 190.5h3M273 190.5h3M302 190.5h2M319 190.5h2M467 190.5h3M498 190.5h3M506 190.5h2M530 190.5h2M822 190.5h2M221 197.5h2M268 197.5h3M467 197.5h3M518 197.5h2M767 197.5h2M280 204.5h3M300 204.5h2M395 204.5h3M587 204.5h2M712 204.5h2M283 211.5h2M312 211.5h2M324 211.5h2M340 211.5h3M386 211.5h2M434 211.5h2M525 211.5h2M415 218.5h2M448 218.5h3M482 218.5h2M491 218.5h3M556 218.5h2M731 218.5h2M750 218.5h2"/>
<path stroke="#2800ff" stroke-width="4" d="M211 75h2M242 75h3M271 75h2M300 75h2M324 75h2M331 75h2M343 75h2M364 75h5M386 75h2M398 75h2M405 75h2M415 75h2M427 75h2M439 75h2M474 75h3M537 75h2M544 75h2M568 75h2M601 75h3M609 75h2M630 75h3M659 75h2M707 75h2M728 75h3M750 75h2M292 82h3M297 82h3M304 82h3M316 82h3M328 82h3M355 82h2M364 82h3M415 82h2M429 82h2M453 82h2M460 82h3M494 82h2M501 82h2M510 82h3M630 82h3M697 82h3M712 82h2M750 82h2M242 89h5M273 89h3M312 89h2M316 89h5M328 89h3M336 89h2M340 89h3M371 89h3M386 89h2M398 89h2M422 89h2M451 89h2M467 89h3M472 89h5M489 89h2M518 89h2M532 89h2M537 89h2M594 89h3M613 89h3M707 89h2M712 89h2M731 89h2M786 89h2M822 89h2M235 96h2M304 96h3M340 96h3M362 96h7M395 96h3M415 96h2M422 96h2M451 96h2M455 96h5M479 96h3M484 96h2M518 96h2M537 96h2M546 96h3M556 96h2M563 96h3M573 96h2M585 96h2M611 96h2M669 96h2M688 96h2M721 96h3M728 96h3M755 96h2M824 96h3M233 103h2M357 103h3M379 103h12M403 103h4M410 103h5M427 103h2M431 103h5M458 103h2M470 103h2M482 103h2M508 103h5M558 103h3M563 103h3M570 103h3M580 103h2M592 103h2M740 103h3M748 103h2M805 103h2M817 103h2M221 110h2M268 110h3M393 110h5M405 110h2M422 110h2M439 110h4M467 110h3M479 110h3M486 110h3M494 110h4M506 110h4M513 110h2M520 110h2M546 110h3M551 110h3M568 110h5M577 110h3M676 110h4M692 110h5M738 110h2M743 110h2M750 110h2M764 110h3M776 110h3M781 110h2M213 117h3M237 117h5M245 117h4M498 117h3M534 117h3M539 117h3M546 117h3M556 117h2M568 117h5M575 117h2M580 117h2M592 117h2M635 117h2M647 117h7M719 117h2M724 117h2M738 117h2M767 117h2M273 124h3M568 124h5M587 124h2M671 124h2M688 124h2M692 124h3M738 124h2M760 124h2M769 124h3M563 131h3M570 131h3M585 131h4M657 131h2M678 131h2M750 131h2M764 131h3M592 138h2M680 138h3M688 138h2M697 138h3M704 138h5M716 138h5M726 138h2M566 145h2M570 145h10M587 145h5M635 145h2M709 145h3M716 145h3M743 145h2M750 145h2M558 152h3M570 152h7M580 152h2M594 152h3M613 152h3M623 152h2M671 152h5M683 152h2M688 152h2M700 152h2M707 152h2M566 159h2M587 159h2M592 159h2M604 159h2M621 159h2M690 159h2M704 159h3M719 159h5M726 159h2M733 159h3M738 159h2M760 159h2M776 159h3M575 166h2M690 166h2M702 166h2M707 166h2M719 166h2M726 166h2M731 166h5M743 166h2M599 173h2M604 173h2M683 173h2M714 173h2M733 173h3M743 173h2M748 173h2M752 173h3M760 173h2M772 173h2M791 173h2M805 173h2M827 173h2M221 180h2M249 180h5M261 180h3M273 180h3M362 180h2M403 180h2M424 180h3M439 180h4M448 180h3M465 180h5M508 180h5M522 180h3M546 180h3M688 180h2M769 180h3M783 180h3M800 180h3M249 187h3M268 187h5M283 187h5M321 187h3M333 187h5M362 187h2M518 187h2M534 187h3M609 187h2M769 187h3M328 194h3M369 194h2M386 194h2M439 194h2M213 201h3M350 201h2M395 201h3M448 201h3M489 201h2M630 201h3M247 208h2M278 208h2M309 208h3M321 208h3M352 208h3M364 208h3M443 208h3M525 208h2M577 208h3M295 215h2M448 215h3M549 215h2M566 215h2"/>
<path stroke="#1b00ff" stroke-width="3" d="M213 71.5h3M228 71.5h2M247 71.5h2M292 71.5h5M326 71.5h2M386 71.5h2M403 71.5h2M415 71.5h2M453 71.5h2M458 71.5h2M482 71.5h2M506 71.5h2M515 71.5h3M570 71.5h3M606 71.5h3M630 71.5h3M740 71.5h3M803 71.5h2M211 78.5h2M216 78.5h2M223 78.5h2M252 78.5h2M259 78.5h2M276 78.5h2M288 78.5h2M336 78.5h2M340 78.5h3M345 78.5h3M350 78.5h5M364 78.5h3M415 78.5h2M419 78.5h3M429 78.5h2M439 78.5h2M453 78.5h5M463 78.5h2M467 78.5h3M474 78.5h3M489 78.5h2M501 78.5h2M508 78.5h5M544 78.5h2M589 78.5h3M601 78.5h3M623 78.5h2M640 78.5h2M743 78.5h2M760 78.5h2M218 85.5h3M245 85.5h2M264 85.5h2M285 85.5h3M309 85.5h3M348 85.5h2M369 85.5h2M379 85.5h4M407 85.5h3M412 85.5h3M422 85.5h5M451 85.5h2M477 85.5h2M486 85.5h3M494 85.5h4M508 85.5h2M520 85.5h2M525 85.5h2M546 85.5h3M601 85.5h3M606 85.5h3M613 85.5h3M628 85.5h5M642 85.5h3M652 85.5h2M697 85.5h5M712 85.5h2M750 85.5h2M757 85.5h3M774 85.5h2M800 85.5h3M812 85.5h3M824 85.5h3M221 92.5h2M285 92.5h5M314 92.5h2M357 92.5h3M381 92.5h2M388 92.5h3M405 92.5h2M412 92.5h3M427 92.5h2M434 92.5h2M467 92.5h3M477 92.5h2M489 92.5h2M510 92.5h3M518 92.5h2M525 92.5h2M532 92.5h5M544 92.5h2M558 92.5h3M606 92.5h3M611 92.5h2M649 92.5h3M673 92.5h3M728 92.5h3M786 92.5h2M807 92.5h3M213 99.5h3M276 99.5h2M336 99.5h2M340 99.5h3M364 99.5h3M371 99.5h3M379 99.5h2M395 99.5h3M410 99.5h2M439 99.5h2M455 99.5h3M463 99.5h2M489 99.5h2M520 99.5h2M539 99.5h3M544 99.5h2M549 99.5h2M611 99.5h2M652 99.5h2M695 99.5h2M702 99.5h2M762 99.5h2M769 99.5h3M776 99.5h3M216 106.5h2M374 106.5h9M398 106.5h5M407 106.5h5M415 106.5h2M431 106.5h5M441 106.5h5M458 106.5h2M474 106.5h3M532 106.5h2M544 106.5h5M609 106.5h2M635 106.5h2M685 106.5h3M709 106.5h3M764 106.5h5M781 106.5h2M791 106.5h7M805 106.5h2M211 113.5h2M221 113.5h2M249 113.5h3M259 113.5h5M400 113.5h3M434 113.5h2M448 113.5h3M458 113.5h2M467 113.5h3M482 113.5h2M486 113.5h3M491 113.5h3M530 113.5h2M534 113.5h3M539 113.5h3M551 113.5h10M568 113.5h2M580 113.5h5M587 113.5h5M657 113.5h2M690 113.5h2M719 113.5h2M757 113.5h3M774 113.5h2M791 113.5h2M795 113.5h3M225 120.5h3M247 120.5h7M257 120.5h2M264 120.5h2M525 120.5h5M546 120.5h5M561 120.5h2M594 120.5h3M633 120.5h2M642 120.5h3M676 120.5h2M743 120.5h2M772 120.5h2M561 127.5h2M580 127.5h2M704 127.5h3M714 127.5h2M719 127.5h2M740 127.5h5M748 127.5h2M570 134.5h3M611 134.5h2M690 134.5h2M697 134.5h3M714 134.5h2M738 134.5h2M755 134.5h2M570 141.5h3M585 141.5h2M714 141.5h2M719 141.5h2M736 141.5h2M745 141.5h3M563 148.5h3M575 148.5h7M611 148.5h2M700 148.5h4M709 148.5h3M714 148.5h2M721 148.5h3M738 148.5h2M745 148.5h3M752 148.5h3M561 155.5h2M566 155.5h2M570 155.5h3M635 155.5h2M649 155.5h3M704 155.5h3M740 155.5h3M611 162.5h2M628 162.5h5M700 162.5h2M709 162.5h3M719 162.5h5M738 162.5h2M760 162.5h2M788 162.5h5M606 169.5h3M664 169.5h2M721 169.5h3M728 169.5h3M743 169.5h2M752 169.5h5M788 169.5h5M798 169.5h2M807 169.5h3M221 176.5h2M233 176.5h2M405 176.5h2M441 176.5h2M515 176.5h3M525 176.5h5M534 176.5h5M585 176.5h2M599 176.5h2M709 176.5h3M783 176.5h3M280 183.5h5M319 183.5h2M326 183.5h2M331 183.5h2M338 183.5h2M360 183.5h4M376 183.5h3M441 183.5h2M477 183.5h2M501 183.5h2M554 183.5h2M685 183.5h3M757 183.5h3M822 183.5h2M383 190.5h3M415 190.5h2M419 190.5h3M486 190.5h3M225 197.5h3M546 197.5h3M218 204.5h3M355 204.5h2M580 204.5h2M304 211.5h3M439 211.5h2M446 211.5h2M503 211.5h3M235 218.5h2M290 218.5h2M400 218.5h3"/>
<path stroke="#1b00ff" stroke-width="4" d="M218 75h3M254 75h3M261 75h5M295 75h2M304 75h3M352 75h3M393 75h2M410 75h2M419 75h3M431 75h3M451 75h2M455 75h3M470 75h2M477 75h2M503 75h3M518 75h2M522 75h3M549 75h2M563 75h3M577 75h3M606 75h3M657 75h2M702 75h2M738 75h2M781 75h2M807 75h5M233 82h2M285 82h3M333 82h5M357 82h5M369 82h2M374 82h7M395 82h3M427 82h2M431 82h3M451 82h2M472 82h2M482 82h4M496 82h2M515 82h3M520 82h2M604 82h2M609 82h2M642 82h3M661 82h3M695 82h2M731 82h2M755 82h2M819 82h3M218 89h5M225 89h3M233 89h2M266 89h2M283 89h2M288 89h2M314 89h2M321 89h3M333 89h3M343 89h2M352 89h3M360 89h2M369 89h2M376 89h3M383 89h3M391 89h2M400 89h3M407 89h3M412 89h5M465 89h2M477 89h2M498 89h3M527 89h3M534 89h3M544 89h2M580 89h2M589 89h3M601 89h3M611 89h2M635 89h5M680 89h3M743 89h2M800 89h3M237 96h3M242 96h3M319 96h2M326 96h2M338 96h2M345 96h3M371 96h5M391 96h4M398 96h2M405 96h7M431 96h10M443 96h3M453 96h2M463 96h2M474 96h3M489 96h5M506 96h2M520 96h2M525 96h2M539 96h3M554 96h2M561 96h2M568 96h2M654 96h3M671 96h2M678 96h2M685 96h3M760 96h2M371 103h3M393 103h2M441 103h2M451 103h2M463 103h2M472 103h5M484 103h2M503 103h3M513 103h2M527 103h3M532 103h2M537 103h2M546 103h3M589 103h3M609 103h2M709 103h3M752 103h3M762 103h2M781 103h2M810 103h2M822 103h2M827 103h2M237 110h3M245 110h2M278 110h2M362 110h2M367 110h2M403 110h2M412 110h3M429 110h2M443 110h3M453 110h5M460 110h5M472 110h5M482 110h2M489 110h2M498 110h3M503 110h3M518 110h2M532 110h2M537 110h2M561 110h2M585 110h2M592 110h2M719 110h2M752 110h3M788 110h5M795 110h3M249 117h3M508 117h5M530 117h2M537 117h2M544 117h2M549 117h2M563 117h3M577 117h3M666 117h3M695 117h2M721 117h3M743 117h2M762 117h2M772 117h2M252 124h2M268 124h3M551 124h3M563 124h3M575 124h5M594 124h3M709 124h3M745 124h3M762 124h2M558 131h3M683 131h2M697 131h3M724 131h2M728 131h5M736 131h2M575 138h2M661 138h3M700 138h2M709 138h3M738 138h2M760 138h4M558 145h5M594 145h3M676 145h2M714 145h2M726 145h2M736 145h4M748 145h2M772 145h2M561 152h2M611 152h2M633 152h2M647 152h2M652 152h2M692 152h3M702 152h5M738 152h2M760 152h2M582 159h5M594 159h3M599 159h2M625 159h5M673 159h3M707 159h5M728 159h3M736 159h2M740 159h3M764 159h3M781 159h2M599 166h2M613 166h3M680 166h3M704 166h3M709 166h3M714 166h2M728 166h3M791 166h2M233 173h2M551 173h3M613 173h3M673 173h3M690 173h2M712 173h2M719 173h2M736 173h2M740 173h3M764 173h3M781 173h2M788 173h3M800 173h3M817 173h2M822 173h2M237 180h3M242 180h5M259 180h2M266 180h2M276 180h4M367 180h2M398 180h2M407 180h3M417 180h2M422 180h2M429 180h2M434 180h2M451 180h2M489 180h5M496 180h5M518 180h2M645 180h2M762 180h2M810 180h2M817 180h2M228 187h5M292 187h3M307 187h2M312 187h4M331 187h2M367 187h2M496 187h2M760 187h2M221 194h2M324 194h2M415 194h2M424 194h3M527 194h3M237 201h3M276 201h2M458 201h2M479 201h3M542 201h2M683 201h2M812 208h3M405 215h2M441 215h2M532 215h2M743 215h2"/>
<path stroke="#0e00ff" stroke-width="3" d="M221 71.5h2M328 71.5h3M340 71.5h3M391 71.5h2M412 71.5h3M427 71.5h2M436 71.5h3M652 71.5h2M680 71.5h3M221 78.5h2M266 78.5h2M271 78.5h2M302 78.5h2M319 78.5h5M328 78.5h3M348 78.5h2M369 78.5h2M393 78.5h2M448 78.5h3M494 78.5h2M539 78.5h3M551 78.5h5M575 78.5h2M630 78.5h3M635 78.5h2M700 78.5h2M707 78.5h2M757 78.5h3M762 78.5h2M822 78.5h2M249 85.5h3M271 85.5h2M295 85.5h2M333 85.5h3M400 85.5h3M417 85.5h2M434 85.5h2M465 85.5h2M527 85.5h3M551 85.5h5M611 85.5h2M779 85.5h2M819 85.5h3M237 92.5h3M321 92.5h3M369 92.5h2M374 92.5h2M386 92.5h2M391 92.5h2M395 92.5h3M403 92.5h2M443 92.5h3M465 92.5h2M472 92.5h5M479 92.5h3M494 92.5h2M503 92.5h3M527 92.5h3M592 92.5h2M604 92.5h2M625 92.5h3M633 92.5h2M736 92.5h2M245 99.5h2M252 99.5h2M333 99.5h3M338 99.5h2M345 99.5h5M386 99.5h2M407 99.5h3M424 99.5h3M441 99.5h2M453 99.5h2M472 99.5h2M484 99.5h2M542 99.5h2M582 99.5h3M597 99.5h2M613 99.5h3M649 99.5h3M654 99.5h3M712 99.5h2M755 99.5h2M276 106.5h2M352 106.5h5M367 106.5h2M482 106.5h2M494 106.5h2M501 106.5h2M510 106.5h3M556 106.5h2M592 106.5h5M599 106.5h2M611 106.5h2M673 106.5h3M688 106.5h2M819 106.5h3M278 113.5h2M407 113.5h3M424 113.5h3M431 113.5h3M470 113.5h4M484 113.5h2M489 113.5h2M563 113.5h3M611 113.5h2M642 113.5h3M714 113.5h2M745 113.5h3M755 113.5h2M776 113.5h3M786 113.5h2M798 113.5h5M230 120.5h3M235 120.5h2M240 120.5h2M245 120.5h2M259 120.5h2M268 120.5h3M530 120.5h2M575 120.5h2M585 120.5h2M613 120.5h3M748 120.5h2M776 120.5h3M781 120.5h2M237 127.5h3M273 127.5h3M568 127.5h2M575 127.5h2M676 127.5h2M716 127.5h3M728 127.5h3M736 127.5h4M752 127.5h3M769 127.5h3M776 127.5h3M558 134.5h5M566 134.5h2M575 134.5h2M582 134.5h3M709 134.5h3M721 134.5h3M726 134.5h2M736 134.5h2M740 134.5h8M757 134.5h3M566 141.5h4M609 141.5h2M733 141.5h3M743 141.5h2M748 141.5h2M760 141.5h4M594 148.5h3M621 148.5h2M716 148.5h3M736 148.5h2M740 148.5h3M750 148.5h2M762 148.5h2M769 148.5h3M575 155.5h2M580 155.5h2M599 155.5h7M613 155.5h3M623 155.5h2M630 155.5h3M707 155.5h2M714 155.5h2M721 155.5h3M733 155.5h3M745 155.5h3M752 155.5h5M767 155.5h2M779 155.5h2M786 155.5h2M577 162.5h3M589 162.5h3M726 162.5h2M733 162.5h5M783 162.5h3M542 169.5h2M618 169.5h3M649 169.5h3M709 169.5h3M774 169.5h2M786 169.5h2M795 169.5h3M803 169.5h2M218 176.5h3M343 176.5h2M352 176.5h3M367 176.5h2M446 176.5h2M458 176.5h2M484 176.5h5M491 176.5h3M496 176.5h5M503 176.5h3M510 176.5h3M518 176.5h2M542 176.5h7M800 176.5h3M213 183.5h3M285 183.5h3M314 183.5h2M321 183.5h5M343 183.5h2M348 183.5h2M530 183.5h2M733 183.5h3M767 183.5h2M278 190.5h2M288 190.5h2M304 190.5h3M314 190.5h2M417 190.5h2M470 190.5h2M508 190.5h2M527 190.5h3M245 197.5h2M285 197.5h3M470 197.5h2M297 204.5h3M319 204.5h2M417 211.5h2M257 218.5h2M585 218.5h2"/>
<path stroke="#0e00ff" stroke-width="4" d="M235 75h2M290 75h2M333 75h3M381 75h5M429 75h2M441 75h2M448 75h3M458 75h2M467 75h3M496 75h2M510 75h3M520 75h2M594 75h3M613 75h3M666 75h3M671 75h2M748 75h2M242 82h3M283 82h2M324 82h2M350 82h2M398 82h2M470 82h2M522 82h3M532 82h2M549 82h2M558 82h3M566 82h2M628 82h2M709 82h3M714 82h2M728 82h3M822 82h2M259 89h2M292 89h3M297 89h3M348 89h2M362 89h2M379 89h2M388 89h3M443 89h3M520 89h5M530 89h2M606 89h3M218 96h3M259 96h2M302 96h2M321 96h3M328 96h3M333 96h3M350 96h2M369 96h2M376 96h3M532 96h2M752 96h3M791 96h4M221 103h4M245 103h2M338 103h5M345 103h3M352 103h3M364 103h3M374 103h2M400 103h3M439 103h2M465 103h5M520 103h2M551 103h3M561 103h2M568 103h2M573 103h4M594 103h3M613 103h3M637 103h3M645 103h2M683 103h2M779 103h2M783 103h3M812 103h3M230 110h3M410 110h2M415 110h7M436 110h3M527 110h5M549 110h2M558 110h3M563 110h3M575 110h2M762 110h2M769 110h3M228 117h5M268 117h3M484 117h7M494 117h2M506 117h2M520 117h2M527 117h3M558 117h3M566 117h2M611 117h2M700 117h2M712 117h2M733 117h5M757 117h3M783 117h3M225 124h5M245 124h2M257 124h2M264 124h2M537 124h2M546 124h5M585 124h2M592 124h2M697 124h3M736 124h2M767 124h2M568 131h2M573 131h2M582 131h3M589 131h3M613 131h3M642 131h3M673 131h3M695 131h2M704 131h3M716 131h3M769 131h3M573 138h2M580 138h5M594 138h3M733 138h5M743 138h2M748 138h2M611 145h2M630 145h3M692 145h3M712 145h2M719 145h7M757 145h3M776 145h3M563 152h3M577 152h3M582 152h5M728 152h3M736 152h2M743 152h2M748 152h2M752 152h3M767 152h2M563 159h3M568 159h2M611 159h2M623 159h2M630 159h3M700 159h2M748 159h2M752 159h3M762 159h2M772 159h4M568 166h2M721 166h3M748 166h4M755 166h2M762 166h2M772 166h2M786 166h2M223 173h2M546 173h3M757 173h3M783 173h3M793 173h2M803 173h2M810 173h2M819 173h3M211 180h2M216 180h2M228 180h2M319 180h2M340 180h3M357 180h3M369 180h2M381 180h5M388 180h7M415 180h2M431 180h3M455 180h3M460 180h3M470 180h2M474 180h3M486 180h3M534 180h3M539 180h3M685 180h3M712 180h2M760 180h2M822 180h2M261 187h3M288 187h4M295 187h2M393 187h2M498 187h3M508 187h2M515 187h3M374 194h2M546 194h3M364 201h3M319 208h2M403 208h2M752 208h3M793 208h2M297 215h3"/>
<path stroke="#0100ff" stroke-width="3" d="M264 71.5h2M379 71.5h2M460 71.5h3M549 71.5h2M640 71.5h2M669 71.5h2M237 78.5h3M264 78.5h2M290 78.5h2M304 78.5h3M331 78.5h2M405 78.5h2M776 78.5h3M221 85.5h2M288 85.5h2M302 85.5h2M324 85.5h2M336 85.5h2M388 85.5h3M405 85.5h2M460 85.5h3M534 85.5h3M544 85.5h2M669 85.5h2M740 85.5h3M798 85.5h2M225 92.5h3M230 92.5h5M271 92.5h2M300 92.5h4M307 92.5h2M312 92.5h2M393 92.5h2M441 92.5h2M451 92.5h2M513 92.5h2M546 92.5h3M594 92.5h7M613 92.5h3M630 92.5h3M657 92.5h2M752 92.5h3M774 92.5h2M779 92.5h2M819 92.5h3M324 99.5h2M331 99.5h2M427 99.5h2M443 99.5h3M510 99.5h3M527 99.5h3M606 99.5h3M700 99.5h2M731 99.5h2M752 99.5h3M767 99.5h2M261 106.5h3M280 106.5h3M388 106.5h3M465 106.5h2M506 106.5h2M558 106.5h3M577 106.5h3M585 106.5h2M604 106.5h2M623 106.5h2M630 106.5h3M812 106.5h5M415 113.5h2M460 113.5h3M508 113.5h2M515 113.5h3M566 113.5h2M613 113.5h3M700 113.5h2M793 113.5h2M216 120.5h5M242 120.5h3M482 120.5h4M522 120.5h3M539 120.5h3M563 120.5h3M568 120.5h2M609 120.5h4M678 120.5h2M721 120.5h3M731 120.5h2M755 120.5h2M760 120.5h2M546 127.5h3M551 127.5h3M566 127.5h2M577 127.5h3M707 127.5h5M760 127.5h2M573 134.5h2M594 134.5h3M716 134.5h3M750 134.5h2M764 134.5h3M580 141.5h2M721 141.5h3M752 141.5h5M764 141.5h3M592 148.5h2M623 148.5h2M628 148.5h2M712 148.5h2M726 148.5h2M760 148.5h2M582 155.5h3M606 155.5h3M738 155.5h2M743 155.5h2M748 155.5h4M760 155.5h4M772 155.5h4M561 162.5h2M601 162.5h3M666 162.5h3M714 162.5h2M757 162.5h3M482 169.5h2M539 169.5h3M671 169.5h2M704 169.5h3M793 169.5h2M805 169.5h2M812 169.5h3M240 176.5h7M254 176.5h3M259 176.5h2M331 176.5h2M386 176.5h5M415 176.5h2M419 176.5h5M427 176.5h2M463 176.5h2M470 176.5h7M513 176.5h2M520 176.5h2M551 176.5h3M719 176.5h2M779 176.5h2M798 176.5h2M288 183.5h2M304 183.5h3M295 190.5h5M436 190.5h3M374 204.5h2M422 204.5h2M434 204.5h2M606 204.5h3M374 211.5h2M508 218.5h2"/>
<path stroke="#0100ff" stroke-width="4" d="M326 75h2M357 75h3M486 75h3M760 75h2M228 82h2M257 82h2M268 82h3M338 82h2M352 82h3M381 82h2M386 82h2M410 82h2M434 82h2M439 82h4M463 82h2M577 82h3M616 82h2M621 82h4M228 89h5M261 89h5M309 89h3M324 89h4M374 89h2M405 89h2M417 89h2M427 89h2M441 89h2M448 89h3M484 89h2M501 89h2M599 89h2M616 89h2M669 89h2M695 89h2M716 89h3M738 89h2M812 89h3M817 89h2M228 96h2M247 96h2M266 96h2M283 96h2M312 96h2M336 96h2M343 96h2M424 96h3M486 96h3M494 96h2M513 96h5M522 96h3M604 96h2M609 96h2M613 96h3M709 96h3M743 96h2M795 96h3M213 103h3M360 103h2M448 103h3M491 103h3M549 103h2M585 103h2M719 103h2M745 103h3M757 103h3M769 103h3M280 110h3M369 110h2M379 110h2M383 110h3M388 110h5M400 110h3M424 110h3M542 110h2M609 110h2M709 110h3M211 117h2M278 117h2M407 117h3M460 117h3M472 117h5M482 117h2M513 117h2M616 117h2M680 117h3M692 117h3M769 117h3M779 117h2M788 117h3M223 124h2M237 124h3M271 124h2M498 124h3M542 124h2M573 124h2M589 124h3M613 124h3M748 124h2M752 124h5M772 124h2M791 124h2M561 131h2M566 131h2M575 131h2M592 131h2M609 131h2M738 131h2M748 131h2M755 131h5M558 138h5M568 138h2M604 138h2M609 138h2M712 138h2M769 138h3M585 145h2M609 145h2M623 145h2M683 145h2M740 145h3M760 145h2M764 145h3M568 152h2M609 152h2M625 152h3M630 152h3M712 152h2M721 152h3M733 152h3M740 152h3M757 152h3M573 159h2M577 159h3M783 159h3M618 166h3M652 166h2M757 166h5M764 166h5M795 166h3M800 166h3M211 173h2M252 173h2M419 173h3M463 173h2M486 173h3M534 173h3M549 173h2M554 173h2M776 173h3M815 173h2M225 180h3M264 180h2M304 180h3M309 180h5M331 180h2M343 180h2M350 180h7M360 180h2M364 180h3M395 180h3M530 180h2M635 180h2M748 180h2M779 180h2M300 187h2M343 187h2M558 208h3M690 215h2"/>
<path stroke="#0018ff" stroke-width="3" d="M470 71.5h2M498 71.5h3M690 71.5h2M228 78.5h2M324 78.5h2M333 78.5h3M486 78.5h3M570 78.5h3M616 78.5h2M292 85.5h3M321 85.5h3M338 85.5h5M383 85.5h3M489 85.5h2M537 85.5h2M599 85.5h2M704 85.5h3M304 92.5h3M398 92.5h2M458 92.5h2M506 92.5h2M601 92.5h3M640 92.5h2M680 92.5h3M726 92.5h2M328 99.5h3M532 99.5h2M575 99.5h5M594 99.5h3M745 99.5h3M319 106.5h2M343 106.5h5M364 106.5h3M393 106.5h2M417 106.5h2M463 106.5h2M515 106.5h3M527 106.5h3M810 106.5h2M824 106.5h3M395 113.5h5M405 113.5h2M412 113.5h3M419 113.5h3M429 113.5h2M436 113.5h3M441 113.5h2M477 113.5h2M494 113.5h2M606 113.5h3M623 113.5h2M769 113.5h3M213 120.5h3M254 120.5h3M276 120.5h4M448 120.5h3M498 120.5h5M506 120.5h2M515 120.5h5M534 120.5h3M625 120.5h3M764 120.5h8M786 120.5h2M221 127.5h2M225 127.5h3M257 127.5h2M534 127.5h3M544 127.5h2M609 127.5h2M772 127.5h2M781 127.5h2M748 134.5h2M762 134.5h2M767 134.5h5M779 134.5h2M563 141.5h3M575 141.5h5M606 141.5h3M611 141.5h2M709 141.5h3M568 148.5h2M601 148.5h5M613 148.5h3M755 148.5h2M625 155.5h3M666 155.5h3M783 155.5h3M788 155.5h3M618 162.5h3M755 162.5h2M764 162.5h3M769 162.5h3M793 162.5h2M261 169.5h3M489 169.5h2M537 169.5h2M779 169.5h4M822 169.5h2M273 176.5h3M278 176.5h2M333 176.5h3M357 176.5h3M371 176.5h3M381 176.5h2M391 176.5h2M395 176.5h3M451 176.5h2M494 176.5h2M769 176.5h3M297 183.5h3M309 183.5h3M451 190.5h2M324 197.5h2"/>
<path stroke="#0018ff" stroke-width="4" d="M506 75h2M628 75h2M700 75h2M819 75h3M247 82h2M259 82h2M295 82h2M331 82h2M412 82h3M477 82h2M539 82h3M573 82h2M601 82h3M216 89h2M249 89h3M290 89h2M295 89h2M331 89h2M338 89h2M367 89h2M539 89h3M604 89h2M645 89h2M760 89h2M793 89h2M805 89h2M309 96h3M582 96h3M628 96h2M652 96h2M704 96h3M798 96h2M326 103h2M343 103h2M355 103h2M477 103h2M577 103h3M623 103h5M666 103h3M680 103h3M731 103h2M791 103h2M819 103h3M211 110h2M352 110h3M360 110h2M374 110h2M381 110h2M386 110h2M431 110h3M525 110h2M611 110h2M630 110h3M745 110h3M803 110h4M398 117h2M448 117h3M458 117h2M463 117h2M470 117h2M477 117h2M501 117h2M573 117h2M585 117h2M599 117h2M755 117h2M791 117h2M211 124h2M218 124h3M240 124h2M254 124h3M515 124h3M539 124h3M599 124h2M611 124h2M721 124h3M726 124h2M757 124h3M577 131h3M594 131h3M599 131h2M604 131h2M611 131h2M767 131h2M654 138h3M728 138h3M755 138h2M772 138h2M599 145h2M604 145h5M666 145h3M599 152h2M604 152h2M719 152h2M755 152h2M764 152h3M772 152h2M776 152h3M601 159h3M755 159h2M769 159h3M779 159h2M786 159h5M779 166h2M249 173h3M259 173h2M268 173h3M441 173h2M498 173h3M503 173h3M518 173h2M580 173h2M786 173h2M798 173h2M300 180h2M316 180h3M324 180h2M333 180h3M371 180h3M376 180h3M520 180h2M443 187h3M506 187h2M525 201h2"/>
<path stroke="#0032ff" stroke-width="3" d="M290 71.5h2M609 71.5h2M692 71.5h3M707 71.5h2M261 78.5h3M343 78.5h2M417 78.5h2M479 78.5h3M673 78.5h3M211 85.5h2M290 85.5h2M398 85.5h2M530 85.5h2M654 85.5h3M748 85.5h2M752 85.5h3M410 92.5h2M537 92.5h2M266 99.5h2M321 99.5h3M326 99.5h2M343 99.5h2M436 99.5h3M470 99.5h2M259 106.5h2M333 106.5h3M338 106.5h5M348 106.5h4M360 106.5h2M525 106.5h2M807 106.5h3M822 106.5h2M371 113.5h3M391 113.5h2M422 113.5h2M427 113.5h2M496 113.5h2M261 120.5h3M489 120.5h2M503 120.5h3M508 120.5h2M532 120.5h2M542 120.5h2M599 120.5h5M606 120.5h3M630 120.5h3M213 127.5h3M218 127.5h3M233 127.5h2M599 127.5h2M623 127.5h2M702 127.5h2M549 134.5h2M613 134.5h3M625 134.5h3M774 134.5h2M616 148.5h2M625 148.5h3M630 148.5h3M654 148.5h3M690 148.5h2M757 148.5h3M764 148.5h5M772 148.5h2M628 155.5h2M764 155.5h3M781 155.5h2M767 162.5h2M230 169.5h3M498 169.5h3M549 169.5h2M769 169.5h3M216 176.5h2M225 176.5h3M235 176.5h2M247 176.5h2M266 176.5h2M276 176.5h2M285 176.5h3M319 176.5h2M340 176.5h3M355 176.5h2M362 176.5h2M376 176.5h3M398 176.5h5M407 176.5h3M429 176.5h2M434 176.5h2M439 176.5h2M453 176.5h5M460 176.5h3M465 176.5h2M822 176.5h2M252 183.5h2M295 183.5h2M680 183.5h3"/>
<path stroke="#0032ff" stroke-width="4" d="M479 75h3M558 75h3M688 75h2M271 89h2M470 89h2M628 89h2M225 96h3M288 96h2M314 96h2M331 96h2M348 96h2M381 96h5M388 96h3M427 96h2M570 96h3M616 96h2M324 103h2M599 103h2M604 103h2M611 103h2M697 103h3M364 110h3M470 110h2M566 110h2M654 110h3M783 110h3M798 110h2M218 117h5M225 117h3M280 117h3M415 117h4M429 117h2M446 117h2M451 117h2M613 117h3M213 124h5M266 124h2M474 124h3M491 124h3M503 124h3M530 124h4M544 124h2M616 124h2M690 124h2M774 124h5M783 124h3M268 131h3M551 131h3M628 131h2M760 131h4M772 131h2M599 138h5M621 138h2M630 138h3M750 138h5M764 138h3M568 145h2M592 145h2M601 145h3M613 145h3M755 145h2M606 152h3M654 152h3M762 152h2M618 159h3M714 159h2M767 159h2M791 159h2M228 173h2M237 173h3M257 173h2M261 173h3M424 173h3M458 173h2M474 173h3M489 173h2M494 173h2M506 173h2M525 173h2M530 173h4M539 173h3M769 173h3M280 180h3M292 180h3M328 180h3M336 180h2M345 180h3M410 180h2M477 180h2"/>
<path stroke="#004dff" stroke-width="3" d="M230 78.5h3M436 78.5h3M616 85.5h2M621 85.5h2M683 85.5h2M297 92.5h3M623 92.5h2M628 92.5h2M309 99.5h3M314 99.5h2M604 99.5h2M623 99.5h10M326 106.5h2M371 106.5h3M601 106.5h3M616 106.5h2M362 113.5h2M367 113.5h4M383 113.5h8M393 113.5h2M403 113.5h2M410 113.5h2M417 113.5h2M439 113.5h2M453 113.5h2M479 113.5h3M506 113.5h2M604 113.5h2M609 113.5h2M707 113.5h2M458 120.5h2M474 120.5h3M520 120.5h2M616 120.5h2M740 120.5h3M783 120.5h3M788 120.5h5M216 127.5h2M268 127.5h5M542 127.5h2M604 127.5h5M764 127.5h3M606 134.5h3M628 134.5h5M776 134.5h3M599 141.5h2M604 141.5h2M625 141.5h3M779 141.5h2M774 148.5h2M783 148.5h5M616 155.5h2M688 155.5h2M769 155.5h3M791 155.5h2M549 162.5h2M795 162.5h3M225 169.5h3M240 169.5h2M257 169.5h2M544 169.5h5M815 169.5h2M819 169.5h3M827 169.5h2M230 176.5h3M309 176.5h3M345 176.5h3M369 176.5h2M374 176.5h2M383 176.5h3M412 176.5h3M467 176.5h3M482 176.5h2M501 176.5h2M290 183.5h2M302 183.5h2"/>
<path stroke="#004dff" stroke-width="4" d="M618 75h3M793 75h2M486 82h3M700 82h2M726 82h2M381 89h2M403 89h2M609 89h2M630 89h3M719 89h2M285 96h3M307 96h2M324 96h2M601 96h3M630 96h3M316 103h3M328 103h3M350 103h2M628 103h2M707 103h2M355 110h2M376 110h3M451 110h2M594 110h3M599 110h2M613 110h3M827 110h2M388 117h3M422 117h2M443 117h3M455 117h3M465 117h2M479 117h3M496 117h2M606 117h5M623 117h2M793 117h2M221 124h2M230 124h3M247 124h2M259 124h2M419 124h3M482 124h2M501 124h2M506 124h2M527 124h3M534 124h3M601 124h5M623 124h2M628 124h5M786 124h2M233 131h2M597 131h2M630 131h3M628 138h2M774 138h5M616 145h2M625 145h3M628 152h2M769 152h3M774 152h2M800 159h3M223 166h2M240 166h2M482 166h2M769 166h3M788 166h3M798 166h2M218 173h3M247 173h2M254 173h3M273 173h5M316 173h3M371 173h3M376 173h3M405 173h2M470 173h2M515 173h3M520 173h2M527 173h3M544 173h2M288 180h2M326 180h2M297 187h3"/>
<path stroke="#0068ff" stroke-width="3" d="M508 71.5h2M477 78.5h2M618 78.5h3M566 85.5h2M791 85.5h2M249 92.5h3M324 92.5h2M453 92.5h2M587 92.5h2M616 92.5h2M769 92.5h3M288 99.5h2M292 99.5h3M316 99.5h3M601 99.5h3M304 106.5h3M331 106.5h2M613 106.5h3M817 106.5h2M264 113.5h2M338 113.5h2M352 113.5h3M357 113.5h3M374 113.5h2M616 113.5h2M750 113.5h2M805 113.5h2M424 120.5h3M439 120.5h2M451 120.5h2M455 120.5h3M460 120.5h5M477 120.5h5M494 120.5h2M604 120.5h2M798 120.5h2M211 127.5h2M223 127.5h2M240 127.5h2M247 127.5h5M259 127.5h2M498 127.5h3M515 127.5h3M527 127.5h3M767 127.5h2M774 127.5h2M783 127.5h3M791 127.5h2M213 134.5h3M539 134.5h3M599 134.5h2M604 134.5h2M623 134.5h2M616 141.5h2M621 141.5h2M628 141.5h5M767 141.5h2M772 141.5h2M788 141.5h3M211 148.5h2M597 148.5h2M606 148.5h3M776 148.5h3M539 162.5h3M798 162.5h5M223 169.5h2M247 169.5h2M278 169.5h2M343 169.5h2M362 169.5h2M441 169.5h2M458 169.5h2M515 169.5h3M810 169.5h2M824 169.5h3M213 176.5h3M307 176.5h2M312 176.5h2M316 176.5h3M326 176.5h2M336 176.5h2M360 176.5h2M364 176.5h3M393 176.5h2M424 176.5h3M431 176.5h3M436 176.5h3M448 176.5h3M477 176.5h2M307 183.5h2"/>
<path stroke="#0068ff" stroke-width="4" d="M800 82h3M479 89h3M606 96h3M623 96h2M283 103h2M336 103h2M601 103h3M606 103h3M630 103h3M316 110h3M328 110h3M348 110h2M628 110h2M807 110h3M812 110h3M362 117h2M376 117h5M395 117h3M400 117h5M419 117h3M424 117h3M434 117h2M439 117h2M467 117h3M625 117h3M233 124h4M276 124h4M429 124h2M448 124h3M479 124h3M484 124h5M510 124h3M525 124h2M606 124h3M625 124h3M779 124h4M216 131h2M237 131h3M537 131h2M546 131h3M621 131h2M776 131h3M623 138h2M783 138h3M791 138h2M551 145h3M628 145h2M774 145h2M254 152h3M601 152h3M779 152h2M549 159h2M254 166h3M419 166h3M474 166h3M503 166h3M537 166h2M544 166h5M807 166h3M216 173h2M225 173h3M264 173h2M271 173h2M278 173h5M290 173h2M297 173h3M352 173h3M357 173h3M393 173h2M398 173h2M410 173h2M427 173h2M446 173h7M460 173h3M484 173h2M501 173h2M542 173h2M283 180h5M290 180h2M297 180h3M302 180h2M307 180h2M321 180h3M338 180h2"/>
<path stroke="#0082ff" stroke-width="3" d="M290 92.5h2M295 92.5h2M300 99.5h2M319 99.5h2M616 99.5h2M621 99.5h2M324 106.5h2M328 106.5h3M628 106.5h2M827 106.5h2M336 113.5h2M343 113.5h2M355 113.5h2M360 113.5h2M376 113.5h7M601 113.5h3M628 113.5h2M407 120.5h5M417 120.5h5M434 120.5h2M441 120.5h2M446 120.5h2M467 120.5h3M513 120.5h2M230 127.5h3M242 127.5h5M261 127.5h5M276 127.5h2M465 127.5h2M477 127.5h2M532 127.5h2M630 127.5h3M786 127.5h2M249 134.5h3M525 134.5h2M616 134.5h2M783 134.5h3M544 141.5h2M601 141.5h3M776 141.5h3M781 141.5h2M781 148.5h2M618 155.5h3M798 155.5h2M474 162.5h3M805 162.5h2M216 169.5h2M233 169.5h2M237 169.5h3M245 169.5h2M252 169.5h2M264 169.5h2M429 169.5h2M474 169.5h5M501 169.5h2M525 169.5h2M532 169.5h2M554 169.5h2M283 176.5h2M304 176.5h3M338 176.5h2M348 176.5h2M417 176.5h2"/>
<path stroke="#0082ff" stroke-width="4" d="M247 75h2M621 89h2M290 96h5M549 96h2M309 103h3M616 103h2M333 110h3M338 110h2M343 110h2M539 110h3M606 110h3M616 110h2M621 110h2M819 110h3M233 117h2M352 117h3M405 117h2M410 117h2M436 117h3M453 117h2M604 117h2M628 117h2M798 117h2M242 124h3M434 124h2M455 124h3M463 124h2M513 124h2M518 124h2M213 131h3M218 131h3M249 131h5M273 131h3M522 131h3M527 131h3M625 131h3M779 131h2M783 131h3M791 131h2M551 138h3M606 138h3M616 138h2M788 138h3M793 138h2M257 145h2M769 145h3M781 145h7M252 152h2M781 152h2M791 152h2M218 159h3M316 166h3M518 166h2M530 166h2M542 166h2M213 173h3M221 173h2M235 173h2M240 173h5M292 173h3M309 173h3M338 173h5M381 173h2M391 173h2M407 173h3M417 173h2M422 173h2M429 173h2M472 173h2M482 173h2M508 173h2M513 173h2M295 180h2M314 180h2"/>
<path stroke="#009dff" stroke-width="3" d="M292 92.5h3M621 92.5h2M285 99.5h3M302 99.5h7M288 106.5h2M309 106.5h3M336 106.5h2M621 106.5h2M625 106.5h3M340 113.5h3M364 113.5h3M625 113.5h3M630 113.5h3M803 113.5h2M369 120.5h5M400 120.5h3M405 120.5h2M415 120.5h2M429 120.5h5M472 120.5h2M795 120.5h3M800 120.5h3M228 127.5h2M266 127.5h2M486 127.5h3M491 127.5h3M513 127.5h2M518 127.5h4M537 127.5h5M616 127.5h2M625 127.5h5M779 127.5h2M218 134.5h5M235 134.5h5M252 134.5h2M276 134.5h2M601 134.5h3M781 134.5h2M623 141.5h2M774 141.5h2M783 141.5h3M791 141.5h2M221 148.5h2M618 148.5h3M791 148.5h2M549 155.5h2M800 155.5h3M271 162.5h2M803 162.5h2M218 169.5h3M249 169.5h3M276 169.5h2M328 169.5h3M367 169.5h2M398 169.5h2M407 169.5h3M419 169.5h3M446 169.5h2M484 169.5h5M496 169.5h2M513 169.5h2M518 169.5h2M527 169.5h5M280 176.5h3M288 176.5h4M297 176.5h3M350 176.5h2M379 176.5h2M410 176.5h2"/>
<path stroke="#009dff" stroke-width="4" d="M494 89h2M621 96h2M625 96h3M288 103h2M292 103h3M283 110h2M340 110h3M350 110h2M601 110h3M623 110h2M824 110h3M371 117h3M393 117h2M431 117h3M441 117h2M601 117h3M795 117h3M800 117h3M261 124h3M446 124h2M458 124h2M496 124h2M508 124h2M788 124h3M223 131h2M235 131h2M240 131h2M245 131h2M271 131h2M542 131h4M606 131h3M616 131h2M623 131h2M613 138h3M625 138h3M786 138h2M621 145h2M767 145h2M783 152h5M795 152h3M793 159h2M211 166h2M237 166h3M257 166h2M261 166h3M268 166h8M280 166h3M489 166h5M498 166h3M551 166h3M803 166h2M815 166h2M245 173h2M283 173h2M319 173h2M326 173h12M343 173h2M350 173h2M362 173h2M367 173h4M374 173h2M388 173h3M439 173h2M455 173h3M465 173h5M477 173h2M496 173h2M510 173h3"/>
<path stroke="#00b7ff" stroke-width="3" d="M618 85.5h3M283 106.5h2M316 106.5h3M606 106.5h3M280 113.5h3M621 113.5h2M352 120.5h3M386 120.5h2M393 120.5h5M403 120.5h2M427 120.5h2M443 120.5h3M465 120.5h2M470 120.5h2M621 120.5h4M628 120.5h2M254 127.5h3M405 127.5h2M458 127.5h2M467 127.5h3M474 127.5h3M525 127.5h2M530 127.5h2M554 127.5h2M601 127.5h3M621 127.5h2M240 134.5h2M264 134.5h2M273 134.5h3M554 134.5h2M621 134.5h2M786 134.5h2M245 141.5h2M786 141.5h2M474 148.5h3M549 148.5h2M788 148.5h3M795 148.5h3M249 155.5h3M252 162.5h2M273 162.5h3M278 162.5h2M235 169.5h2M259 169.5h2M271 169.5h2M345 169.5h3M352 169.5h3M357 169.5h3M364 169.5h3M386 169.5h2M412 169.5h5M443 169.5h3M479 169.5h3M491 169.5h3M503 169.5h10M522 169.5h3M551 169.5h3M292 176.5h3M300 176.5h2M328 176.5h3M403 176.5h2"/>
<path stroke="#00b7ff" stroke-width="4" d="M417 82h2M297 96h3M297 103h3M321 103h3M309 110h3M324 110h4M336 110h2M345 110h3M810 110h2M815 110h4M357 117h3M381 117h2M412 117h3M427 117h2M621 117h2M405 124h5M441 124h2M477 124h2M489 124h2M494 124h2M795 124h3M247 131h2M257 131h2M264 131h2M510 131h3M518 131h2M530 131h2M601 131h3M774 131h2M211 138h2M252 138h2M549 138h2M779 138h2M549 145h2M791 145h2M218 152h3M273 152h3M544 152h5M788 152h3M273 159h3M546 159h3M551 159h3M798 159h2M228 166h2M245 166h2M427 166h2M463 166h2M522 166h5M805 166h2M810 166h5M230 173h3M312 173h2M321 173h3M345 173h3M355 173h2M379 173h2M436 173h3"/>
<path stroke="#00d2ff" stroke-width="3" d="M295 99.5h2M312 99.5h2M300 106.5h2M312 106.5h4M810 113.5h2M817 113.5h2M388 120.5h3M398 120.5h2M436 120.5h3M805 120.5h2M235 127.5h2M278 127.5h2M443 127.5h3M463 127.5h2M472 127.5h2M489 127.5h2M508 127.5h5M793 127.5h2M254 134.5h3M544 134.5h2M788 134.5h5M213 141.5h3M257 141.5h2M527 141.5h5M551 141.5h3M273 148.5h3M544 148.5h2M779 148.5h2M218 155.5h3M419 155.5h3M213 162.5h3M223 162.5h2M237 162.5h3M249 162.5h3M371 162.5h3M463 162.5h2M491 162.5h3M551 162.5h3M812 162.5h3M822 162.5h2M211 169.5h2M228 169.5h2M242 169.5h3M266 169.5h5M280 169.5h3M333 169.5h3M355 169.5h2M439 169.5h2M448 169.5h3M494 169.5h2M520 169.5h2M534 169.5h3M817 169.5h2"/>
<path stroke="#00d2ff" stroke-width="4" d="M295 96h2M300 96h2M319 103h2M297 110h3M331 110h2M625 110h3M343 117h2M369 117h2M386 117h2M391 117h2M630 117h3M374 124h2M400 124h3M424 124h5M467 124h3M211 131h2M221 131h2M225 131h5M491 131h3M532 131h2M539 131h3M554 131h2M781 131h2M786 131h2M793 131h5M237 138h3M257 138h2M264 138h2M544 138h2M781 138h2M228 145h2M249 145h3M779 145h2M788 145h3M793 152h2M223 159h2M233 159h2M252 159h2M407 159h3M795 159h3M230 166h3M252 166h2M259 166h2M340 166h3M357 166h3M448 166h3M486 166h3M508 166h2M539 166h3M549 166h2M554 166h2M819 166h3M824 166h3M307 173h2M314 173h2M360 173h2M386 173h2M395 173h3M412 173h5M434 173h2M479 173h3"/>
<path stroke="#00ecff" stroke-width="3" d="M285 106.5h3M321 106.5h3M319 113.5h2M807 113.5h3M824 113.5h5M362 120.5h2M367 120.5h2M379 120.5h2M391 120.5h2M496 120.5h2M793 120.5h2M357 127.5h3M395 127.5h3M419 127.5h3M482 127.5h2M503 127.5h3M788 127.5h3M211 134.5h2M223 134.5h2M230 134.5h3M242 134.5h3M257 134.5h4M271 134.5h2M419 134.5h3M474 134.5h3M498 134.5h3M518 134.5h2M530 134.5h7M551 134.5h3M795 134.5h3M211 141.5h2M216 141.5h2M458 141.5h2M463 141.5h2M798 141.5h5M213 148.5h3M237 148.5h3M542 148.5h2M233 155.5h2M503 155.5h3M534 155.5h3M795 155.5h3M218 162.5h3M225 162.5h3M233 162.5h2M240 162.5h7M257 162.5h7M503 162.5h3M513 162.5h2M527 162.5h3M534 162.5h3M544 162.5h2M554 162.5h2M221 169.5h2M254 169.5h3M273 169.5h3M302 169.5h2M319 169.5h2M391 169.5h2M395 169.5h3M400 169.5h3M405 169.5h2M410 169.5h2M424 169.5h3M434 169.5h2M302 176.5h2M321 176.5h3"/>
<path stroke="#00ecff" stroke-width="4" d="M618 82h3M304 103h5M319 110h2M822 110h2M345 117h3M819 117h3M280 124h3M348 124h2M352 124h3M369 124h2M398 124h2M415 124h2M439 124h2M460 124h3M472 124h2M520 124h2M793 124h2M254 131h3M261 131h3M278 131h2M482 131h2M498 131h3M503 131h3M508 131h2M525 131h2M788 131h3M218 138h5M233 138h2M240 138h2M245 138h2M273 138h5M534 138h3M539 138h3M795 138h3M211 145h2M237 145h3M273 145h5M482 145h2M546 145h3M211 152h2M257 152h2M491 152h3M498 152h3M618 152h3M268 159h3M482 159h4M508 159h2M518 159h2M544 159h2M213 166h3M218 166h3M233 166h4M242 166h3M249 166h3M319 166h2M362 166h2M391 166h2M405 166h5M429 166h2M451 166h2M506 166h2M527 166h3M534 166h3M817 166h2M827 166h2M288 173h2M324 173h2M348 173h2M364 173h3M383 173h3M403 173h2"/>
<path stroke="#00fff7" stroke-width="3" d="M302 106.5h2M307 106.5h2M328 113.5h5M350 113.5h2M812 113.5h3M280 120.5h5M381 120.5h2M340 127.5h3M400 127.5h3M415 127.5h2M439 127.5h2M448 127.5h3M522 127.5h3M216 134.5h2M233 134.5h2M245 134.5h2M472 134.5h2M515 134.5h3M527 134.5h3M537 134.5h2M542 134.5h2M546 134.5h3M223 141.5h7M252 141.5h2M271 141.5h2M534 141.5h5M793 141.5h2M223 148.5h2M247 148.5h2M261 148.5h3M268 148.5h3M463 148.5h2M489 148.5h5M539 148.5h3M551 148.5h3M211 155.5h2M221 155.5h2M252 155.5h2M407 155.5h3M460 155.5h5M498 155.5h3M537 155.5h2M793 155.5h2M216 162.5h2M228 162.5h2M264 162.5h2M352 162.5h3M515 162.5h5M537 162.5h2M542 162.5h2M546 162.5h3M824 162.5h3M213 169.5h3M292 169.5h3M316 169.5h3M336 169.5h2M371 169.5h3M381 169.5h2M393 169.5h2M422 169.5h2M427 169.5h2M463 169.5h2M467 169.5h7M324 176.5h2"/>
<path stroke="#00fff7" stroke-width="4" d="M295 103h2M302 103h2M312 103h4M621 103h2M333 117h3M348 117h2M367 117h2M374 117h2M807 117h3M812 117h3M817 117h2M338 124h2M343 124h2M371 124h3M388 124h3M403 124h2M465 124h2M470 124h2M798 124h5M259 131h2M427 131h2M446 131h2M494 131h2M501 131h2M506 131h2M513 131h5M235 138h2M247 138h2M259 138h5M271 138h2M439 138h2M489 138h2M508 138h2M618 138h3M252 145h2M793 145h2M800 145h3M233 152h2M237 152h3M506 152h2M537 152h2M542 152h2M221 159h2M230 159h3M510 159h3M247 166h2M264 166h2M278 166h2M292 166h3M367 166h2M371 166h3M398 166h2M412 166h3M424 166h3M446 166h2M484 166h2M501 166h2M510 166h3M266 173h2M400 173h3M431 173h3M443 173h3"/>
<path stroke="#00ffdc" stroke-width="3" d="M297 106.5h3M316 113.5h3M333 113.5h3M345 113.5h3M819 113.5h5M338 120.5h2M364 120.5h3M374 120.5h2M412 120.5h3M453 120.5h2M803 120.5h2M316 127.5h3M407 127.5h3M446 127.5h2M484 127.5h2M506 127.5h2M798 127.5h2M225 134.5h3M247 134.5h2M278 134.5h2M501 134.5h2M798 134.5h2M218 141.5h3M233 141.5h2M237 141.5h3M242 141.5h3M249 141.5h3M273 141.5h3M542 141.5h2M554 141.5h2M216 148.5h5M240 148.5h2M259 148.5h2M498 148.5h3M503 148.5h3M510 148.5h3M225 155.5h3M240 155.5h2M273 155.5h3M546 155.5h3M211 162.5h2M276 162.5h2M343 162.5h2M391 162.5h2M419 162.5h3M439 162.5h2M486 162.5h3M494 162.5h2M498 162.5h3M510 162.5h3M827 162.5h2M285 169.5h5M300 169.5h2M312 169.5h2M324 169.5h4M348 169.5h2M374 169.5h5M388 169.5h3M403 169.5h2M460 169.5h3M465 169.5h2M314 176.5h2"/>
<path stroke="#00ffdc" stroke-width="4" d="M618 89h3M300 103h2M285 110h3M307 110h2M319 117h2M364 117h3M391 124h2M410 124h2M417 124h2M451 124h2M621 124h2M242 131h3M276 131h2M405 131h2M467 131h3M489 131h2M534 131h3M800 131h3M216 138h2M249 138h3M254 138h3M472 138h2M491 138h3M501 138h2M522 138h3M527 138h3M546 138h3M554 138h2M218 145h3M245 145h2M261 145h3M268 145h3M491 145h3M518 145h2M527 145h3M544 145h2M798 145h2M221 152h4M245 152h2M268 152h3M352 152h3M446 152h2M513 152h2M527 152h3M225 159h3M245 159h2M249 159h3M257 159h2M264 159h2M278 159h2M343 159h2M429 159h2M525 159h2M539 159h3M805 159h2M827 159h2M216 166h2M221 166h2M225 166h3M266 166h2M288 166h2M331 166h5M343 166h2M364 166h3M388 166h3M417 166h2M460 166h3M470 166h2M477 166h2M515 166h3M532 166h2M300 173h2"/>
<path stroke="#00ffc2" stroke-width="3" d="M618 92.5h3M297 99.5h3M292 113.5h3M348 113.5h2M355 120.5h2M383 120.5h3M422 120.5h2M362 127.5h2M494 127.5h4M800 127.5h3M261 134.5h3M268 134.5h3M352 134.5h3M494 134.5h2M503 134.5h3M508 134.5h2M793 134.5h2M800 134.5h3M221 141.5h2M240 141.5h2M247 141.5h2M261 141.5h3M278 141.5h2M407 141.5h3M491 141.5h3M549 141.5h2M618 141.5h3M225 148.5h3M230 148.5h3M252 148.5h2M419 148.5h3M527 148.5h3M546 148.5h3M798 148.5h2M237 155.5h3M266 155.5h2M271 155.5h2M278 155.5h2M340 155.5h3M398 155.5h2M530 155.5h2M539 155.5h3M235 162.5h2M254 162.5h3M285 162.5h5M292 162.5h3M333 162.5h3M340 162.5h3M407 162.5h3M429 162.5h2M446 162.5h2M467 162.5h3M472 162.5h2M482 162.5h2M496 162.5h2M506 162.5h2M522 162.5h5M807 162.5h3M295 169.5h2M309 169.5h3M314 169.5h2M331 169.5h2M360 169.5h2M369 169.5h2M431 169.5h3M436 169.5h3M451 169.5h4M295 176.5h2"/>
<path stroke="#00ffc2" stroke-width="4" d="M288 117h2M350 117h2M355 117h2M319 124h2M393 124h2M431 124h3M436 124h3M230 131h3M266 131h2M434 131h2M484 131h2M496 131h2M618 131h3M798 131h2M223 138h2M228 138h2M278 138h2M448 138h3M518 138h2M530 138h2M542 138h2M800 138h3M264 145h2M446 145h2M467 145h3M501 145h2M542 145h2M618 145h3M795 145h3M235 152h2M249 152h3M458 152h2M474 152h3M489 152h2M522 152h3M530 152h2M554 152h2M800 152h3M216 159h2M357 159h3M419 159h3M451 159h2M458 159h2M474 159h3M530 159h2M542 159h2M554 159h2M803 159h2M807 159h3M283 166h2M304 166h3M336 166h4M345 166h3M352 166h3M400 166h3M410 166h2M439 166h2M465 166h2M479 166h3M494 166h2M520 166h2M822 166h2M285 173h3M295 173h2M304 173h3M453 173h2"/>
<path stroke="#00ffa7" stroke-width="3" d="M292 106.5h3M345 120.5h3M280 127.5h3M391 127.5h2M417 127.5h2M422 127.5h7M434 127.5h5M451 127.5h2M460 127.5h3M470 127.5h2M803 127.5h2M228 134.5h2M362 134.5h2M398 134.5h2M484 134.5h2M235 141.5h2M254 141.5h3M266 141.5h2M276 141.5h2M501 141.5h9M520 141.5h2M525 141.5h2M546 141.5h3M245 148.5h2M405 148.5h2M515 148.5h3M532 148.5h2M537 148.5h2M800 148.5h3M247 155.5h2M254 155.5h3M283 155.5h2M352 155.5h3M362 155.5h2M424 155.5h3M489 155.5h5M501 155.5h2M520 155.5h2M542 155.5h2M554 155.5h2M247 162.5h2M300 162.5h2M357 162.5h3M383 162.5h3M427 162.5h2M451 162.5h2M458 162.5h2M484 162.5h2M530 162.5h4M819 162.5h3M297 169.5h3M304 169.5h5M321 169.5h3M340 169.5h3M379 169.5h2"/>
<path stroke="#00ffa7" stroke-width="4" d="M618 96h3M290 103h2M324 117h2M340 117h3M810 117h2M331 124h2M376 124h3M422 124h2M443 124h3M343 131h2M355 131h2M415 131h2M419 131h3M451 131h2M486 131h3M520 131h2M213 138h3M266 138h2M474 138h3M510 138h3M515 138h3M532 138h2M798 138h2M213 145h5M223 145h2M233 145h2M271 145h2M427 145h2M451 145h2M472 145h2M486 145h5M503 145h3M240 152h2M259 152h2M292 152h3M463 152h2M518 152h2M525 152h2M534 152h3M539 152h3M549 152h5M798 152h2M211 159h2M235 159h2M240 159h2M247 159h2M254 159h3M259 159h2M271 159h2M276 159h2M333 159h3M340 159h3M491 159h3M527 159h3M348 166h2M379 166h2M386 166h2M434 166h5M441 166h5M458 166h2M467 166h3"/>
<path stroke="#00ff8d" stroke-width="3" d="M290 99.5h2M283 113.5h2M288 113.5h2M326 113.5h2M324 120.5h2M340 120.5h3M376 120.5h3M348 127.5h2M352 127.5h5M388 127.5h3M403 127.5h2M412 127.5h3M429 127.5h2M441 127.5h2M429 134.5h2M441 134.5h2M458 134.5h2M477 134.5h2M486 134.5h8M513 134.5h2M520 134.5h2M264 141.5h2M268 141.5h3M280 141.5h3M357 141.5h3M388 141.5h3M393 141.5h2M415 141.5h2M448 141.5h3M482 141.5h2M510 141.5h3M515 141.5h3M532 141.5h2M539 141.5h3M249 148.5h3M278 148.5h2M316 148.5h3M448 148.5h3M501 148.5h2M534 148.5h3M793 148.5h2M216 155.5h2M242 155.5h3M261 155.5h3M331 155.5h2M357 155.5h3M400 155.5h3M486 155.5h3M518 155.5h2M525 155.5h2M544 155.5h2M551 155.5h3M221 162.5h2M283 162.5h2M307 162.5h2M316 162.5h5M369 162.5h2M374 162.5h2M393 162.5h2M398 162.5h2M415 162.5h2M424 162.5h3M436 162.5h3M448 162.5h3M460 162.5h3M520 162.5h2M810 162.5h2M817 162.5h2M283 169.5h2M417 169.5h2M455 169.5h3"/>
<path stroke="#00ff8d" stroke-width="4" d="M285 103h3M288 110h2M304 110h3M312 110h4M283 117h2M290 117h2M326 117h5M803 117h2M815 117h2M357 124h3M362 124h2M381 124h2M391 131h2M407 131h3M439 131h2M443 131h3M472 131h5M268 138h3M415 138h2M486 138h3M494 138h2M498 138h3M520 138h2M525 138h2M537 138h2M225 145h3M240 145h2M259 145h2M316 145h3M388 145h3M407 145h3M513 145h2M522 145h5M530 145h2M537 145h2M216 152h2M271 152h2M276 152h4M283 152h2M357 152h3M496 152h2M532 152h2M228 159h2M237 159h3M261 159h3M316 159h3M388 159h3M415 159h2M422 159h2M467 159h3M501 159h2M515 159h3M532 159h5M307 166h2M328 166h3M350 166h2M355 166h2M381 166h5M415 166h2M422 166h2M513 166h2M302 173h2"/>
<path stroke="#00ff72" stroke-width="3" d="M290 106.5h2M285 113.5h3M304 113.5h3M815 113.5h2M336 120.5h2M343 120.5h2M357 120.5h5M819 120.5h3M824 120.5h5M292 127.5h3M343 127.5h2M369 127.5h5M410 127.5h2M431 127.5h3M453 127.5h5M501 127.5h2M795 127.5h3M280 134.5h3M391 134.5h2M439 134.5h2M446 134.5h2M506 134.5h2M510 134.5h3M259 141.5h2M288 141.5h2M486 141.5h3M494 141.5h2M498 141.5h3M242 148.5h3M254 148.5h3M407 148.5h3M427 148.5h2M482 148.5h2M522 148.5h3M530 148.5h2M213 155.5h3M223 155.5h2M228 155.5h2M245 155.5h2M268 155.5h3M309 155.5h3M434 155.5h2M439 155.5h2M494 155.5h2M506 155.5h2M515 155.5h3M527 155.5h3M268 162.5h3M297 162.5h3M326 162.5h2M364 162.5h3M400 162.5h3M465 162.5h2M489 162.5h2M815 162.5h2M290 169.5h2M350 169.5h2M383 169.5h3"/>
<path stroke="#00ff72" stroke-width="4" d="M312 117h2M316 117h3M336 117h2M360 117h2M805 117h2M316 124h3M360 124h2M379 124h2M386 124h2M618 124h3M369 131h2M403 131h2M424 131h3M431 131h3M455 131h3M463 131h2M225 138h3M242 138h3M441 138h2M446 138h2M482 138h4M503 138h3M221 145h2M230 145h3M254 145h3M448 145h3M474 145h3M515 145h3M534 145h3M554 145h2M807 145h3M213 152h3M225 152h3M230 152h3M261 152h7M280 152h3M288 152h2M415 152h2M419 152h3M443 152h3M482 152h2M508 152h2M515 152h3M213 159h3M242 159h3M345 159h3M352 159h3M362 159h2M403 159h4M441 159h2M446 159h2M463 159h2M503 159h5M522 159h3M537 159h2M824 159h3M285 166h3M300 166h2M309 166h3M326 166h2M369 166h2M395 166h3M455 166h3M472 166h2M496 166h2"/>
<path stroke="#00ff58" stroke-width="3" d="M297 113.5h3M292 120.5h3M348 120.5h2M815 120.5h2M386 127.5h2M398 127.5h2M479 127.5h3M266 134.5h2M316 134.5h3M357 134.5h3M371 134.5h3M415 134.5h2M434 134.5h2M465 134.5h2M479 134.5h3M522 134.5h3M292 141.5h3M391 141.5h2M427 141.5h2M446 141.5h2M451 141.5h2M477 141.5h2M484 141.5h2M522 141.5h3M257 148.5h2M280 148.5h3M302 148.5h2M388 148.5h3M403 148.5h2M424 148.5h3M484 148.5h5M518 148.5h2M805 148.5h2M257 155.5h2M343 155.5h2M395 155.5h3M446 155.5h2M455 155.5h3M508 155.5h5M522 155.5h3M532 155.5h2M803 155.5h2M807 155.5h3M812 155.5h3M266 162.5h2M314 162.5h2M328 162.5h3M355 162.5h2M362 162.5h2M403 162.5h2M412 162.5h3M422 162.5h2M434 162.5h2M477 162.5h2M338 169.5h2"/>
<path stroke="#00ff58" stroke-width="4" d="M292 110h3M321 110h3M297 117h3M309 117h3M331 117h2M338 117h2M383 117h3M824 117h3M300 124h2M309 124h3M328 124h3M340 124h3M364 124h3M395 124h3M453 124h2M280 131h3M338 131h2M348 131h2M362 131h2M388 131h3M422 131h2M815 131h2M309 138h3M393 138h2M427 138h2M477 138h2M506 138h2M235 145h2M280 145h3M352 145h3M362 145h2M429 145h2M479 145h3M228 152h2M242 152h3M247 152h2M304 152h3M316 152h3M340 152h3M403 152h2M407 152h3M417 152h2M424 152h3M429 152h2M484 152h2M510 152h3M803 152h7M280 159h3M309 159h3M319 159h2M326 159h2M355 159h2M494 159h7M812 159h3M302 166h2M312 166h2M374 166h2M393 166h2M403 166h2"/>
<path stroke="#00ff3d" stroke-width="3" d="M307 113.5h9M324 113.5h2M319 120.5h2M326 120.5h2M333 120.5h3M367 127.5h2M393 127.5h2M805 127.5h5M319 134.5h2M405 134.5h5M422 134.5h2M455 134.5h3M463 134.5h2M803 134.5h2M309 141.5h3M316 141.5h3M352 141.5h3M467 141.5h3M474 141.5h3M489 141.5h2M518 141.5h2M266 148.5h2M271 148.5h2M288 148.5h2M309 148.5h3M355 148.5h5M429 148.5h2M443 148.5h5M451 148.5h2M455 148.5h3M460 148.5h3M465 148.5h2M506 148.5h2M525 148.5h2M235 155.5h2M280 155.5h3M360 155.5h2M393 155.5h2M405 155.5h2M415 155.5h2M474 155.5h5M230 162.5h3M280 162.5h3M331 162.5h2M338 162.5h2M348 162.5h2M376 162.5h3M405 162.5h2M441 162.5h2M453 162.5h5M479 162.5h3"/>
<path stroke="#00ff3d" stroke-width="4" d="M300 110h4M300 117h2M822 117h2M827 117h2M283 124h2M345 124h3M355 124h2M803 124h2M812 124h3M824 124h3M319 131h2M357 131h3M398 131h5M410 131h2M448 131h3M460 131h3M465 131h2M470 131h2M477 131h2M230 138h3M288 138h2M333 138h3M343 138h2M352 138h3M391 138h2M398 138h2M405 138h2M465 138h2M496 138h2M242 145h3M278 145h2M326 145h2M357 145h3M439 145h2M463 145h2M470 145h2M494 145h2M338 152h2M345 152h3M362 152h2M455 152h3M465 152h2M472 152h2M486 152h3M503 152h3M815 152h2M266 159h2M348 159h4M391 159h2M395 159h5M410 159h2M434 159h5M465 159h2M819 159h3M276 166h2M295 166h5M360 166h2M376 166h3"/>
<path stroke="#00ff23" stroke-width="3" d="M300 113.5h4M321 113.5h3M314 120.5h2M328 120.5h3M807 120.5h3M328 127.5h3M333 127.5h3M381 127.5h2M283 134.5h2M304 134.5h3M348 134.5h2M393 134.5h2M424 134.5h5M448 134.5h5M482 134.5h2M326 141.5h2M340 141.5h3M374 141.5h2M400 141.5h3M422 141.5h2M439 141.5h2M472 141.5h2M795 141.5h3M805 141.5h2M228 148.5h2M264 148.5h2M292 148.5h3M333 148.5h3M343 148.5h2M352 148.5h3M412 148.5h3M422 148.5h2M439 148.5h2M467 148.5h3M472 148.5h2M477 148.5h2M264 155.5h2M285 155.5h3M316 155.5h5M333 155.5h5M371 155.5h3M381 155.5h2M448 155.5h3M458 155.5h2M484 155.5h2M513 155.5h2M805 155.5h2M345 162.5h3M367 162.5h2M381 162.5h2M431 162.5h3M501 162.5h2"/>
<path stroke="#00ff23" stroke-width="4" d="M292 124h3M326 124h2M350 124h2M383 124h3M412 124h3M805 124h2M810 124h2M283 131h2M288 131h2M292 131h3M333 131h3M340 131h3M352 131h3M379 131h2M479 131h3M285 138h3M316 138h5M357 138h3M362 138h2M371 138h3M407 138h3M419 138h5M429 138h2M434 138h2M443 138h3M451 138h2M470 138h2M513 138h2M807 138h3M391 145h2M419 145h3M424 145h3M455 145h3M484 145h2M510 145h3M532 145h2M539 145h3M285 152h3M312 152h2M333 152h3M371 152h3M391 152h4M460 152h3M467 152h3M501 152h2M827 152h2M283 159h2M307 159h2M328 159h3M364 159h3M393 159h2M400 159h3M417 159h2M424 159h5M477 159h5M486 159h3M513 159h2M810 159h2M815 159h2M431 166h3"/>
<path stroke="#00ff08" stroke-width="3" d="M618 99.5h3M295 106.5h2M618 106.5h3M290 113.5h2M618 113.5h3M297 120.5h5M316 120.5h3M331 120.5h2M300 127.5h2M324 127.5h2M338 127.5h2M374 127.5h2M326 134.5h2M333 134.5h3M395 134.5h3M400 134.5h5M410 134.5h2M431 134.5h3M443 134.5h3M467 134.5h3M618 134.5h3M328 141.5h3M355 141.5h2M412 141.5h3M460 141.5h3M276 148.5h2M319 148.5h2M369 148.5h2M398 148.5h2M431 148.5h3M453 148.5h2M554 148.5h2M810 148.5h2M230 155.5h3M259 155.5h2M288 155.5h2M292 155.5h3M328 155.5h3M338 155.5h2M379 155.5h2M386 155.5h2M391 155.5h2M429 155.5h2M443 155.5h3M467 155.5h5M302 162.5h2M312 162.5h2M350 162.5h2M443 162.5h3"/>
<path stroke="#00ff08" stroke-width="4" d="M618 103h3M302 117h2M367 124h2M364 131h3M374 131h2M393 131h5M417 131h2M429 131h2M441 131h2M453 131h2M458 131h2M280 138h3M292 138h3M304 138h3M395 138h3M403 138h2M424 138h3M436 138h3M463 138h2M247 145h2M266 145h2M328 145h3M333 145h3M364 145h3M369 145h2M441 145h2M460 145h3M477 145h2M508 145h2M805 145h2M319 152h2M374 152h2M395 152h3M405 152h2M448 152h3M470 152h2M288 159h4M302 159h2M448 159h3M470 159h2M324 166h2M453 166h2"/>
<path stroke="#13ff00" stroke-width="3" d="M812 120.5h3M283 127.5h2M304 127.5h3M376 127.5h3M300 134.5h2M340 134.5h3M383 134.5h3M470 134.5h2M827 134.5h2M230 141.5h3M300 141.5h2M343 141.5h2M362 141.5h2M405 141.5h2M424 141.5h3M443 141.5h3M453 141.5h2M470 141.5h2M479 141.5h3M496 141.5h2M513 141.5h2M803 141.5h2M810 141.5h2M233 148.5h4M285 148.5h3M381 148.5h2M400 148.5h3M415 148.5h4M458 148.5h2M508 148.5h2M513 148.5h2M824 148.5h3M276 155.5h2M290 155.5h2M295 155.5h2M355 155.5h2M374 155.5h2M482 155.5h2M810 155.5h2M819 155.5h3M824 155.5h3M295 162.5h2M324 162.5h2M360 162.5h2M388 162.5h3M395 162.5h3M410 162.5h2M417 162.5h2M470 162.5h2M508 162.5h2"/>
<path stroke="#13ff00" stroke-width="4" d="M285 117h3M295 117h2M304 117h3M288 124h2M295 124h2M302 124h2M331 131h2M376 131h3M381 131h2M412 131h3M803 131h2M328 138h3M369 138h2M410 138h2M803 138h2M292 145h3M300 145h2M381 145h2M405 145h2M412 145h5M434 145h2M498 145h3M506 145h2M812 145h3M343 152h2M360 152h2M386 152h2M422 152h2M439 152h2M451 152h2M824 152h3M285 159h3M295 159h7M367 159h2M371 159h3M472 159h2M489 159h2M520 159h2M290 166h2"/>
<path stroke="#2dff00" stroke-width="3" d="M307 120.5h2M321 120.5h3M288 127.5h2M345 127.5h3M360 127.5h2M364 127.5h3M618 127.5h3M328 134.5h5M343 134.5h2M374 134.5h5M381 134.5h2M460 134.5h3M496 134.5h2M810 134.5h2M815 134.5h2M283 141.5h2M369 141.5h5M403 141.5h2M417 141.5h5M431 141.5h3M455 141.5h3M331 148.5h2M362 148.5h7M371 148.5h5M386 148.5h2M470 148.5h2M494 148.5h4M803 148.5h2M812 148.5h3M827 148.5h2M300 155.5h2M364 155.5h3M369 155.5h2M427 155.5h2M453 155.5h2M479 155.5h3M304 162.5h3M321 162.5h3M379 162.5h2"/>
<path stroke="#2dff00" stroke-width="4" d="M290 110h2M314 117h2M290 124h2M297 124h3M307 124h2M333 124h5M815 124h2M819 124h3M316 131h3M324 131h2M805 131h2M348 138h2M374 138h2M388 138h3M467 138h3M479 138h3M288 145h2M307 145h2M371 145h3M398 145h2M453 145h2M496 145h2M520 145h2M803 145h2M824 145h3M350 152h2M364 152h3M379 152h2M400 152h3M412 152h3M427 152h2M434 152h2M477 152h2M292 159h3M312 159h4M331 159h2M338 159h2M369 159h2M374 159h2M381 159h7M443 159h3M460 159h3M817 159h2M321 166h3"/>
<path stroke="#48ff00" stroke-width="3" d="M295 113.5h2M302 120.5h5M312 120.5h2M350 120.5h2M618 120.5h3M312 127.5h2M319 127.5h2M331 127.5h2M336 127.5h2M350 127.5h2M379 127.5h2M810 127.5h2M292 134.5h3M379 134.5h2M388 134.5h3M805 134.5h2M319 141.5h2M348 141.5h2M376 141.5h3M381 141.5h2M395 141.5h5M429 141.5h2M434 141.5h2M441 141.5h2M465 141.5h2M300 148.5h2M340 148.5h3M350 148.5h2M376 148.5h3M391 148.5h7M410 148.5h2M520 148.5h2M807 148.5h3M345 155.5h3M367 155.5h2M403 155.5h2M410 155.5h2M431 155.5h3M472 155.5h2M496 155.5h2M827 155.5h2M309 162.5h3"/>
<path stroke="#48ff00" stroke-width="4" d="M295 110h2M290 131h2M307 131h2M314 131h2M367 131h2M371 131h3M383 131h5M812 131h3M827 131h2M283 138h2M297 138h3M326 138h2M331 138h2M364 138h3M417 138h2M460 138h3M319 145h2M331 145h2M338 145h2M379 145h2M436 145h3M458 145h2M290 152h2M297 152h3M309 152h3M324 152h2M369 152h2M376 152h3M304 159h3M336 159h2M360 159h2M412 159h3M439 159h2M822 159h2"/>
<path stroke="#62ff00" stroke-width="3" d="M285 120.5h5M309 120.5h3M817 120.5h2M285 127.5h3M309 127.5h3M383 127.5h3M824 127.5h3M288 134.5h2M309 134.5h3M338 134.5h2M364 134.5h3M369 134.5h2M386 134.5h2M412 134.5h3M417 134.5h2M453 134.5h2M297 141.5h3M302 141.5h2M345 141.5h3M364 141.5h3M410 141.5h2M283 148.5h2M304 148.5h3M321 148.5h3M328 148.5h3M434 148.5h2M302 155.5h2M350 155.5h2M388 155.5h3M412 155.5h3M422 155.5h2M451 155.5h2M815 155.5h2M822 155.5h2"/>
<path stroke="#62ff00" stroke-width="4" d="M292 117h3M321 117h3M312 124h2M817 124h2M309 131h3M819 131h3M336 138h7M379 138h4M455 138h5M805 138h2M824 138h3M283 145h2M302 145h2M343 145h7M383 145h5M403 145h2M443 145h3M465 145h2M815 145h2M331 152h2M348 152h2M381 152h2M388 152h3M410 152h2M494 152h2M817 152h5M324 159h2M379 159h2M431 159h3M453 159h5M314 166h2"/>
<path stroke="#7dff00" stroke-width="3" d="M326 127.5h2M812 127.5h5M827 127.5h2M345 134.5h3M436 134.5h3M807 134.5h3M304 141.5h3M312 141.5h2M336 141.5h2M367 141.5h2M815 141.5h4M336 148.5h4M436 148.5h3M819 148.5h3M326 155.5h2M348 155.5h2M441 155.5h2M465 155.5h2M290 162.5h2M386 162.5h2"/>
<path stroke="#7dff00" stroke-width="4" d="M618 110h3M618 117h3M304 124h3M314 124h2M324 124h2M807 124h3M822 124h2M295 131h2M304 131h3M328 131h3M345 131h3M360 131h2M436 131h3M302 138h2M314 138h2M355 138h2M367 138h2M376 138h3M383 138h3M309 145h3M355 145h2M393 145h2M410 145h2M417 145h2M431 145h3M302 152h2M321 152h3M326 152h5M355 152h2M383 152h3M431 152h3M520 152h2M810 152h2"/>
<path stroke="#97ff00" stroke-width="3" d="M290 120.5h2M822 120.5h2M295 127.5h2M321 127.5h3M285 134.5h3M290 134.5h2M302 134.5h2M355 134.5h2M367 134.5h2M321 141.5h3M331 141.5h5M338 141.5h2M379 141.5h2M436 141.5h3M807 141.5h3M812 141.5h3M345 148.5h3M379 148.5h2M817 148.5h2M297 155.5h3M304 155.5h3M312 155.5h4M324 155.5h2M383 155.5h3M436 155.5h3M336 162.5h2"/>
<path stroke="#97ff00" stroke-width="4" d="M307 117h2M285 124h3M326 131h2M810 131h2M400 138h3M827 138h2M297 145h3M304 145h3M314 145h2M374 145h5M395 145h3M400 145h3M367 152h2M398 152h2M441 152h2M812 152h3"/>
<path stroke="#b2ff00" stroke-width="3" d="M810 120.5h2M297 127.5h3M302 127.5h2M307 127.5h2M817 127.5h2M822 127.5h2M295 134.5h2M307 134.5h2M314 134.5h2M336 134.5h2M360 134.5h2M812 134.5h3M817 134.5h10M285 141.5h3M290 141.5h2M350 141.5h2M360 141.5h2M386 141.5h2M824 141.5h3M290 148.5h2M297 148.5h3M312 148.5h4M348 148.5h2M815 148.5h2M307 155.5h2M376 155.5h3M417 155.5h2M817 155.5h2"/>
<path stroke="#b2ff00" stroke-width="4" d="M827 124h2M302 131h2M321 131h3M350 131h2M807 131h3M312 138h2M321 138h3M360 138h2M386 138h2M412 138h3M431 138h3M812 138h3M819 138h3M285 145h3M295 145h2M312 145h2M336 145h2M340 145h3M367 145h2M810 145h2M817 145h2M822 145h2M295 152h2M307 152h2M436 152h3M453 152h2M822 152h2M376 159h3"/>
<path stroke="#cdff00" stroke-width="3" d="M295 120.5h2M290 127.5h2M314 127.5h2M819 127.5h3M297 134.5h3M312 134.5h2M321 134.5h5M350 134.5h2M295 141.5h2M307 141.5h2M314 141.5h2M324 141.5h2M383 141.5h3M819 141.5h5M827 141.5h2M295 148.5h2M307 148.5h2M324 148.5h4M360 148.5h2M383 148.5h3M441 148.5h2M479 148.5h3M822 148.5h2M321 155.5h3"/>
<path stroke="#cdff00" stroke-width="4" d="M321 124h3M285 131h3M297 131h5M312 131h2M336 131h2M817 131h2M822 131h5M290 138h2M295 138h2M300 138h2M307 138h2M324 138h2M345 138h3M350 138h2M453 138h2M810 138h2M815 138h4M822 138h2M290 145h2M321 145h5M350 145h2M360 145h2M422 145h2M819 145h3M827 145h2M300 152h2M314 152h2M336 152h2M479 152h3M321 159h3"/>
</g>
<defs><linearGradient id="vl" x1="0" y1="70" x2="0" y2="220" gradientUnits="userSpaceOnUse"><stop offset="0" stop-color="#00ffd0"/><stop offset="0.45" stop-color="#20ff40"/><stop offset="0.52" stop-color="#00ff80"/><stop offset="0.55" stop-color="#000" stop-opacity="0"/><stop offset="1" stop-color="#000" stop-opacity="0"/></linearGradient></defs>
<rect x="274" y="70" width="1" height="90" fill="url(#vl)"/>
<g shape-rendering="crispEdges">
<defs>
<linearGradient id="pr0" x1="244" x2="799" y1="0" y2="0" gradientUnits="userSpaceOnUse"><stop offset="0.0000" stop-color="#00ff28"/><stop offset="0.5694" stop-color="#00ff28"/><stop offset="0.6414" stop-color="#00ff27"/><stop offset="0.7135" stop-color="#00ff1a"/><stop offset="0.7856" stop-color="#00ff14"/><stop offset="1.0000" stop-color="#00ff14"/></linearGradient>
<linearGradient id="pr1" x1="244" x2="799" y1="0" y2="0" gradientUnits="userSpaceOnUse"><stop offset="0.0000" stop-color="#1fff00"/><stop offset="0.5694" stop-color="#1fff00"/><stop offset="0.6414" stop-color="#1dff00"/><stop offset="0.7135" stop-color="#0aff00"/><stop offset="0.7856" stop-color="#00ff00"/><stop offset="1.0000" stop-color="#00ff00"/></linearGradient>
<linearGradient id="pr2" x1="244" x2="799" y1="0" y2="0" gradientUnits="userSpaceOnUse"><stop offset="0.0000" stop-color="#46ff00"/><stop offset="0.5694" stop-color="#46ff00"/><stop offset="0.6414" stop-color="#43ff00"/><stop offset="0.7135" stop-color="#16ff00"/><stop offset="0.7856" stop-color="#00ff00"/><stop offset="1.0000" stop-color="#00ff00"/></linearGradient>
<linearGradient id="pr3" x1="244" x2="799" y1="0" y2="0" gradientUnits="userSpaceOnUse"><stop offset="0.0000" stop-color="#5bff00"/><stop offset="0.5694" stop-color="#5bff00"/><stop offset="0.6414" stop-color="#56ff00"/><stop offset="0.7135" stop-color="#18ff00"/><stop offset="0.7856" stop-color="#00ff06"/><stop offset="1.0000" stop-color="#00ff06"/></linearGradient>
<linearGradient id="pr4" x1="244" x2="799" y1="0" y2="0" gradientUnits="userSpaceOnUse"><stop offset="0.0000" stop-color="#50ff00"/><stop offset="0.5694" stop-color="#50ff00"/><stop offset="0.6414" stop-color="#4aff00"/><stop offset="0.7135" stop-color="#00ff10"/><stop offset="0.7856" stop-color="#00ff3c"/><stop offset="1.0000" stop-color="#00ff3c"/></linearGradient>
<linearGradient id="pr5" x1="244" x2="799" y1="0" y2="0" gradientUnits="userSpaceOnUse"><stop offset="0.0000" stop-color="#14ff00"/><stop offset="0.5694" stop-color="#14ff00"/><stop offset="0.6414" stop-color="#0fff00"/><stop offset="0.7135" stop-color="#00ff45"/><stop offset="0.7856" stop-color="#00ff6e"/><stop offset="1.0000" stop-color="#00ff6e"/></linearGradient>
<linearGradient id="pr6" x1="244" x2="799" y1="0" y2="0" gradientUnits="userSpaceOnUse"><stop offset="0.0000" stop-color="#00ff3c"/><stop offset="0.5694" stop-color="#00ff3c"/><stop offset="0.6414" stop-color="#00ff3f"/><stop offset="0.7135" stop-color="#00ff73"/><stop offset="0.7856" stop-color="#00ff8c"/><stop offset="1.0000" stop-color="#00ff8c"/></linearGradient>
<linearGradient id="pr7" x1="244" x2="799" y1="0" y2="0" gradientUnits="userSpaceOnUse"><stop offset="0.0000" stop-color="#00ff8c"/><stop offset="0.5694" stop-color="#00ff8c"/><stop offset="0.6414" stop-color="#00ff8e"/><stop offset="0.7135" stop-color="#00ffa7"/><stop offset="0.7856" stop-color="#00ffb4"/><stop offset="1.0000" stop-color="#00ffb4"/></linearGradient>
<linearGradient id="pr8" x1="244" x2="799" y1="0" y2="0" gradientUnits="userSpaceOnUse"><stop offset="0.0000" stop-color="#00ffdd"/><stop offset="0.5694" stop-color="#00ffdd"/><stop offset="0.6414" stop-color="#00ffdc"/><stop offset="0.7135" stop-color="#00ffd6"/><stop offset="0.7856" stop-color="#00ffd2"/><stop offset="1.0000" stop-color="#00ffd2"/></linearGradient>
<linearGradient id="pr9" x1="244" x2="799" y1="0" y2="0" gradientUnits="userSpaceOnUse"><stop offset="0.0000" stop-color="#00e0ff"/><stop offset="0.5694" stop-color="#00e0ff"/><stop offset="0.6414" stop-color="#00e2ff"/><stop offset="0.7135" stop-color="#00f9ff"/><stop offset="0.7856" stop-color="#00fffa"/><stop offset="1.0000" stop-color="#00fffa"/></linearGradient>
<linearGradient id="pr10" x1="244" x2="799" y1="0" y2="0" gradientUnits="userSpaceOnUse"><stop offset="0.0000" stop-color="#00aaff"/><stop offset="0.5694" stop-color="#00aaff"/><stop offset="0.6414" stop-color="#00adff"/><stop offset="0.7135" stop-color="#00e0ff"/><stop offset="0.7856" stop-color="#00faff"/><stop offset="1.0000" stop-color="#00faff"/></linearGradient>
</defs>
<rect x="244" y="256" width="555" height="18" fill="url(#pr0)"/>
<rect x="244" y="274" width="555" height="17" fill="url(#pr1)"/>
<rect x="244" y="291" width="555" height="18" fill="url(#pr2)"/>
<rect x="244" y="309" width="555" height="17" fill="url(#pr3)"/>
<rect x="244" y="326" width="555" height="18" fill="url(#pr4)"/>
<rect x="244" y="344" width="555" height="17" fill="url(#pr5)"/>
<rect x="244" y="361" width="555" height="18" fill="url(#pr6)"/>
<rect x="244" y="379" width="555" height="18" fill="url(#pr7)"/>
<rect x="244" y="397" width="555" height="17" fill="url(#pr8)"/>
<rect x="244" y="414" width="555" height="18" fill="url(#pr9)"/>
<rect x="244" y="432" width="555" height="17" fill="url(#pr10)"/>
<rect x="248" y="256" width="1" height="193" fill="#000"/>
<rect x="263" y="256" width="1" height="193" fill="#000"/>
<rect x="279" y="256" width="1" height="193" fill="#000"/>
<rect x="294" y="256" width="1" height="193" fill="#000"/>
<rect x="310" y="256" width="1" height="193" fill="#000"/>
<rect x="325" y="256" width="1" height="193" fill="#000"/>
<rect x="341" y="256" width="1" height="193" fill="#000"/>
<rect x="356" y="256" width="1" height="193" fill="#000"/>
<rect x="372" y="256" width="1" height="193" fill="#000"/>
<rect x="387" y="256" width="1" height="193" fill="#000"/>
<rect x="403" y="256" width="1" height="193" fill="#000"/>
<rect x="419" y="256" width="1" height="193" fill="#000"/>
<rect x="434" y="256" width="1" height="193" fill="#000"/>
<rect x="450" y="256" width="1" height="193" fill="#000"/>
<rect x="465" y="256" width="1" height="193" fill="#000"/>
<rect x="481" y="256" width="1" height="193" fill="#000"/>
<rect x="496" y="256" width="1" height="193" fill="#000"/>
<rect x="512" y="256" width="1" height="193" fill="#000"/>
<rect x="527" y="256" width="1" height="193" fill="#000"/>
<rect x="543" y="256" width="1" height="193" fill="#000"/>
<rect x="558" y="256" width="1" height="193" fill="#000"/>
<rect x="574" y="256" width="1" height="193" fill="#000"/>
<rect x="589" y="256" width="1" height="193" fill="#000"/>
<rect x="605" y="256" width="1" height="193" fill="#000"/>
<rect x="620" y="256" width="1" height="193" fill="#000"/>
<rect x="636" y="256" width="1" height="193" fill="#000"/>
<rect x="651" y="256" width="1" height="193" fill="#000"/>
<rect x="667" y="256" width="1" height="193" fill="#000"/>
<rect x="682" y="256" width="1" height="193" fill="#000"/>
<rect x="698" y="256" width="1" height="193" fill="#000"/>
<rect x="713" y="256" width="1" height="193" fill="#000"/>
<rect x="729" y="256" width="1" height="193" fill="#000"/>
<rect x="744" y="256" width="1" height="193" fill="#000"/>
<rect x="760" y="256" width="1" height="193" fill="#000"/>
<rect x="775" y="256" width="1" height="193" fill="#000"/>
<rect x="791" y="256" width="1" height="193" fill="#000"/>
<rect x="244" y="273" width="555" height="1" fill="#000"/>
<rect x="244" y="290" width="555" height="1" fill="#000"/>
<rect x="244" y="308" width="555" height="1" fill="#000"/>
<rect x="244" y="325" width="555" height="1" fill="#000"/>
<rect x="244" y="343" width="555" height="1" fill="#000"/>
<rect x="244" y="361" width="555" height="1" fill="#000"/>
<rect x="244" y="378" width="555" height="1" fill="#000"/>
<rect x="244" y="396" width="555" height="1" fill="#000"/>
<rect x="244" y="413" width="555" height="1" fill="#000"/>
<rect x="244" y="431" width="555" height="1" fill="#000"/>
<rect x="210" y="61" width="620" height="1" fill="#fff"/>
<rect x="210" y="220" width="620" height="1" fill="#fff"/>
<rect x="210" y="61" width="1" height="160" fill="#fff"/>
<rect x="829" y="61" width="1" height="160" fill="#fff"/>
<rect x="214" y="62" width="1" height="5" fill="#fff"/>
<rect x="214" y="215" width="1" height="5" fill="#fff"/>
<rect x="224" y="62" width="1" height="5" fill="#fff"/>
<rect x="224" y="215" width="1" height="5" fill="#fff"/>
<rect x="235" y="62" width="1" height="5" fill="#fff"/>
<rect x="235" y="215" width="1" height="5" fill="#fff"/>
<rect x="244" y="62" width="1" height="5" fill="#fff"/>
<rect x="244" y="215" width="1" height="5" fill="#fff"/>
<rect x="254" y="62" width="1" height="5" fill="#fff"/>
<rect x="254" y="215" width="1" height="5" fill="#fff"/>
<rect x="264" y="62" width="1" height="9" fill="#fff"/>
<rect x="264" y="211" width="1" height="9" fill="#fff"/>
<rect x="274" y="62" width="1" height="5" fill="#fff"/>
<rect x="274" y="215" width="1" height="5" fill="#fff"/>
<rect x="284" y="62" width="1" height="5" fill="#fff"/>
<rect x="284" y="215" width="1" height="5" fill="#fff"/>
<rect x="293" y="62" width="1" height="5" fill="#fff"/>
<rect x="293" y="215" width="1" height="5" fill="#fff"/>
<rect x="303" y="62" width="1" height="5" fill="#fff"/>
<rect x="303" y="215" width="1" height="5" fill="#fff"/>
<rect x="313" y="62" width="1" height="5" fill="#fff"/>
<rect x="313" y="215" width="1" height="5" fill="#fff"/>
<rect x="323" y="62" width="1" height="5" fill="#fff"/>
<rect x="323" y="215" width="1" height="5" fill="#fff"/>
<rect x="333" y="62" width="1" height="5" fill="#fff"/>
<rect x="333" y="215" width="1" height="5" fill="#fff"/>
<rect x="342" y="62" width="1" height="5" fill="#fff"/>
<rect x="342" y="215" width="1" height="5" fill="#fff"/>
<rect x="352" y="62" width="1" height="9" fill="#fff"/>
<rect x="352" y="211" width="1" height="9" fill="#fff"/>
<rect x="362" y="62" width="1" height="5" fill="#fff"/>
<rect x="362" y="215" width="1" height="5" fill="#fff"/>
<rect x="372" y="62" width="1" height="5" fill="#fff"/>
<rect x="372" y="215" width="1" height="5" fill="#fff"/>
<rect x="382" y="62" width="1" height="5" fill="#fff"/>
<rect x="382" y="215" width="1" height="5" fill="#fff"/>
<rect x="391" y="62" width="1" height="5" fill="#fff"/>
<rect x="391" y="215" width="1" height="5" fill="#fff"/>
<rect x="401" y="62" width="1" height="5" fill="#fff"/>
<rect x="401" y="215" width="1" height="5" fill="#fff"/>
<rect x="411" y="62" width="1" height="5" fill="#fff"/>
<rect x="411" y="215" width="1" height="5" fill="#fff"/>
<rect x="421" y="62" width="1" height="5" fill="#fff"/>
<rect x="421" y="215" width="1" height="5" fill="#fff"/>
<rect x="431" y="62" width="1" height="5" fill="#fff"/>
<rect x="431" y="215" width="1" height="5" fill="#fff"/>
<rect x="440" y="62" width="1" height="9" fill="#fff"/>
<rect x="440" y="211" width="1" height="9" fill="#fff"/>
<rect x="450" y="62" width="1" height="5" fill="#fff"/>
<rect x="450" y="215" width="1" height="5" fill="#fff"/>
<rect x="460" y="62" width="1" height="5" fill="#fff"/>
<rect x="460" y="215" width="1" height="5" fill="#fff"/>
<rect x="470" y="62" width="1" height="5" fill="#fff"/>
<rect x="470" y="215" width="1" height="5" fill="#fff"/>
<rect x="480" y="62" width="1" height="5" fill="#fff"/>
<rect x="480" y="215" width="1" height="5" fill="#fff"/>
<rect x="489" y="62" width="1" height="5" fill="#fff"/>
<rect x="489" y="215" width="1" height="5" fill="#fff"/>
<rect x="499" y="62" width="1" height="5" fill="#fff"/>
<rect x="499" y="215" width="1" height="5" fill="#fff"/>
<rect x="509" y="62" width="1" height="5" fill="#fff"/>
<rect x="509" y="215" width="1" height="5" fill="#fff"/>
<rect x="519" y="62" width="1" height="5" fill="#fff"/>
<rect x="519" y="215" width="1" height="5" fill="#fff"/>
<rect x="529" y="62" width="1" height="9" fill="#fff"/>
<rect x="529" y="211" width="1" height="9" fill="#fff"/>
<rect x="538" y="62" width="1" height="5" fill="#fff"/>
<rect x="538" y="215" width="1" height="5" fill="#fff"/>
<rect x="548" y="62" width="1" height="5" fill="#fff"/>
<rect x="548" y="215" width="1" height="5" fill="#fff"/>
<rect x="558" y="62" width="1" height="5" fill="#fff"/>
<rect x="558" y="215" width="1" height="5" fill="#fff"/>
<rect x="568" y="62" width="1" height="5" fill="#fff"/>
<rect x="568" y="215" width="1" height="5" fill="#fff"/>
<rect x="577" y="62" width="1" height="5" fill="#fff"/>
<rect x="577" y="215" width="1" height="5" fill="#fff"/>
<rect x="587" y="62" width="1" height="5" fill="#fff"/>
<rect x="587" y="215" width="1" height="5" fill="#fff"/>
<rect x="597" y="62" width="1" height="5" fill="#fff"/>
<rect x="597" y="215" width="1" height="5" fill="#fff"/>
<rect x="607" y="62" width="1" height="5" fill="#fff"/>
<rect x="607" y="215" width="1" height="5" fill="#fff"/>
<rect x="617" y="62" width="1" height="9" fill="#fff"/>
<rect x="617" y="211" width="1" height="9" fill="#fff"/>
<rect x="626" y="62" width="1" height="5" fill="#fff"/>
<rect x="626" y="215" width="1" height="5" fill="#fff"/>
<rect x="636" y="62" width="1" height="5" fill="#fff"/>
<rect x="636" y="215" width="1" height="5" fill="#fff"/>
<rect x="646" y="62" width="1" height="5" fill="#fff"/>
<rect x="646" y="215" width="1" height="5" fill="#fff"/>
<rect x="656" y="62" width="1" height="5" fill="#fff"/>
<rect x="656" y="215" width="1" height="5" fill="#fff"/>
<rect x="666" y="62" width="1" height="5" fill="#fff"/>
<rect x="666" y="215" width="1" height="5" fill="#fff"/>
<rect x="675" y="62" width="1" height="5" fill="#fff"/>
<rect x="675" y="215" width="1" height="5" fill="#fff"/>
<rect x="685" y="62" width="1" height="5" fill="#fff"/>
<rect x="685" y="215" width="1" height="5" fill="#fff"/>
<rect x="695" y="62" width="1" height="5" fill="#fff"/>
<rect x="695" y="215" width="1" height="5" fill="#fff"/>
<rect x="705" y="62" width="1" height="9" fill="#fff"/>
<rect x="705" y="211" width="1" height="9" fill="#fff"/>
<rect x="715" y="62" width="1" height="5" fill="#fff"/>
<rect x="715" y="215" width="1" height="5" fill="#fff"/>
<rect x="724" y="62" width="1" height="5" fill="#fff"/>
<rect x="724" y="215" width="1" height="5" fill="#fff"/>
<rect x="734" y="62" width="1" height="5" fill="#fff"/>
<rect x="734" y="215" width="1" height="5" fill="#fff"/>
<rect x="744" y="62" width="1" height="5" fill="#fff"/>
<rect x="744" y="215" width="1" height="5" fill="#fff"/>
<rect x="754" y="62" width="1" height="5" fill="#fff"/>
<rect x="754" y="215" width="1" height="5" fill="#fff"/>
<rect x="764" y="62" width="1" height="5" fill="#fff"/>
<rect x="764" y="215" width="1" height="5" fill="#fff"/>
<rect x="773" y="62" width="1" height="5" fill="#fff"/>
<rect x="773" y="215" width="1" height="5" fill="#fff"/>
<rect x="783" y="62" width="1" height="5" fill="#fff"/>
<rect x="783" y="215" width="1" height="5" fill="#fff"/>
<rect x="793" y="62" width="1" height="9" fill="#fff"/>
<rect x="793" y="211" width="1" height="9" fill="#fff"/>
<rect x="803" y="62" width="1" height="5" fill="#fff"/>
<rect x="803" y="215" width="1" height="5" fill="#fff"/>
<rect x="813" y="62" width="1" height="5" fill="#fff"/>
<rect x="813" y="215" width="1" height="5" fill="#fff"/>
<rect x="822" y="62" width="1" height="5" fill="#fff"/>
<rect x="822" y="215" width="1" height="5" fill="#fff"/>
<rect x="201" y="220" width="9" height="1" fill="#fff"/>
<rect x="830" y="220" width="9" height="1" fill="#fff"/>
<rect x="204" y="199" width="6" height="1" fill="#fff"/>
<rect x="830" y="199" width="6" height="1" fill="#fff"/>
<rect x="204" y="178" width="6" height="1" fill="#fff"/>
<rect x="830" y="178" width="6" height="1" fill="#fff"/>
<rect x="204" y="166" width="6" height="1" fill="#fff"/>
<rect x="830" y="166" width="6" height="1" fill="#fff"/>
<rect x="204" y="157" width="6" height="1" fill="#fff"/>
<rect x="830" y="157" width="6" height="1" fill="#fff"/>
<rect x="201" y="150" width="9" height="1" fill="#fff"/>
<rect x="830" y="150" width="9" height="1" fill="#fff"/>
<rect x="204" y="130" width="6" height="1" fill="#fff"/>
<rect x="830" y="130" width="6" height="1" fill="#fff"/>
<rect x="204" y="109" width="6" height="1" fill="#fff"/>
<rect x="830" y="109" width="6" height="1" fill="#fff"/>
<rect x="204" y="96" width="6" height="1" fill="#fff"/>
<rect x="830" y="96" width="6" height="1" fill="#fff"/>
<rect x="204" y="88" width="6" height="1" fill="#fff"/>
<rect x="830" y="88" width="6" height="1" fill="#fff"/>
<rect x="201" y="81" width="9" height="1" fill="#fff"/>
<rect x="830" y="81" width="9" height="1" fill="#fff"/>
<rect x="204" y="61" width="6" height="1" fill="#fff"/>
<rect x="830" y="61" width="6" height="1" fill="#fff"/>
<rect x="210" y="255" width="620" height="1" fill="#fff"/>
<rect x="210" y="449" width="620" height="1" fill="#fff"/>
<rect x="210" y="255" width="1" height="195" fill="#fff"/>
<rect x="829" y="255" width="1" height="195" fill="#fff"/>
<rect x="214" y="256" width="1" height="5" fill="#fff"/>
<rect x="214" y="444" width="1" height="5" fill="#fff"/>
<rect x="224" y="256" width="1" height="5" fill="#fff"/>
<rect x="224" y="444" width="1" height="5" fill="#fff"/>
<rect x="235" y="256" width="1" height="5" fill="#fff"/>
<rect x="235" y="444" width="1" height="5" fill="#fff"/>
<rect x="244" y="256" width="1" height="5" fill="#fff"/>
<rect x="244" y="444" width="1" height="5" fill="#fff"/>
<rect x="254" y="256" width="1" height="5" fill="#fff"/>
<rect x="254" y="444" width="1" height="5" fill="#fff"/>
<rect x="264" y="256" width="1" height="9" fill="#fff"/>
<rect x="264" y="440" width="1" height="9" fill="#fff"/>
<rect x="274" y="256" width="1" height="5" fill="#fff"/>
<rect x="274" y="444" width="1" height="5" fill="#fff"/>
<rect x="284" y="256" width="1" height="5" fill="#fff"/>
<rect x="284" y="444" width="1" height="5" fill="#fff"/>
<rect x="293" y="256" width="1" height="5" fill="#fff"/>
<rect x="293" y="444" width="1" height="5" fill="#fff"/>
<rect x="303" y="256" width="1" height="5" fill="#fff"/>
<rect x="303" y="444" width="1" height="5" fill="#fff"/>
<rect x="313" y="256" width="1" height="5" fill="#fff"/>
<rect x="313" y="444" width="1" height="5" fill="#fff"/>
<rect x="323" y="256" width="1" height="5" fill="#fff"/>
<rect x="323" y="444" width="1" height="5" fill="#fff"/>
<rect x="333" y="256" width="1" height="5" fill="#fff"/>
<rect x="333" y="444" width="1" height="5" fill="#fff"/>
<rect x="342" y="256" width="1" height="5" fill="#fff"/>
<rect x="342" y="444" width="1" height="5" fill="#fff"/>
<rect x="352" y="256" width="1" height="9" fill="#fff"/>
<rect x="352" y="440" width="1" height="9" fill="#fff"/>
<rect x="362" y="256" width="1" height="5" fill="#fff"/>
<rect x="362" y="444" width="1" height="5" fill="#fff"/>
<rect x="372" y="256" width="1" height="5" fill="#fff"/>
<rect x="372" y="444" width="1" height="5" fill="#fff"/>
<rect x="382" y="256" width="1" height="5" fill="#fff"/>
<rect x="382" y="444" width="1" height="5" fill="#fff"/>
<rect x="391" y="256" width="1" height="5" fill="#fff"/>
<rect x="391" y="444" width="1" height="5" fill="#fff"/>
<rect x="401" y="256" width="1" height="5" fill="#fff"/>
<rect x="401" y="444" width="1" height="5" fill="#fff"/>
<rect x="411" y="256" width="1" height="5" fill="#fff"/>
<rect x="411" y="444" width="1" height="5" fill="#fff"/>
<rect x="421" y="256" width="1" height="5" fill="#fff"/>
<rect x="421" y="444" width="1" height="5" fill="#fff"/>
<rect x="431" y="256" width="1" height="5" fill="#fff"/>
<rect x="431" y="444" width="1" height="5" fill="#fff"/>
<rect x="440" y="256" width="1" height="9" fill="#fff"/>
<rect x="440" y="440" width="1" height="9" fill="#fff"/>
<rect x="450" y="256" width="1" height="5" fill="#fff"/>
<rect x="450" y="444" width="1" height="5" fill="#fff"/>
<rect x="460" y="256" width="1" height="5" fill="#fff"/>
<rect x="460" y="444" width="1" height="5" fill="#fff"/>
<rect x="470" y="256" width="1" height="5" fill="#fff"/>
<rect x="470" y="444" width="1" height="5" fill="#fff"/>
<rect x="480" y="256" width="1" height="5" fill="#fff"/>
<rect x="480" y="444" width="1" height="5" fill="#fff"/>
<rect x="489" y="256" width="1" height="5" fill="#fff"/>
<rect x="489" y="444" width="1" height="5" fill="#fff"/>
<rect x="499" y="256" width="1" height="5" fill="#fff"/>
<rect x="499" y="444" width="1" height="5" fill="#fff"/>
<rect x="509" y="256" width="1" height="5" fill="#fff"/>
<rect x="509" y="444" width="1" height="5" fill="#fff"/>
<rect x="519" y="256" width="1" height="5" fill="#fff"/>
<rect x="519" y="444" width="1" height="5" fill="#fff"/>
<rect x="529" y="256" width="1" height="9" fill="#fff"/>
<rect x="529" y="440" width="1" height="9" fill="#fff"/>
<rect x="538" y="256" width="1" height="5" fill="#fff"/>
<rect x="538" y="444" width="1" height="5" fill="#fff"/>
<rect x="548" y="256" width="1" height="5" fill="#fff"/>
<rect x="548" y="444" width="1" height="5" fill="#fff"/>
<rect x="558" y="256" width="1" height="5" fill="#fff"/>
<rect x="558" y="444" width="1" height="5" fill="#fff"/>
<rect x="568" y="256" width="1" height="5" fill="#fff"/>
<rect x="568" y="444" width="1" height="5" fill="#fff"/>
<rect x="577" y="256" width="1" height="5" fill="#fff"/>
<rect x="577" y="444" width="1" height="5" fill="#fff"/>
<rect x="587" y="256" width="1" height="5" fill="#fff"/>
<rect x="587" y="444" width="1" height="5" fill="#fff"/>
<rect x="597" y="256" width="1" height="5" fill="#fff"/>
<rect x="597" y="444" width="1" height="5" fill="#fff"/>
<rect x="607" y="256" width="1" height="5" fill="#fff"/>
<rect x="607" y="444" width="1" height="5" fill="#fff"/>
<rect x="617" y="256" width="1" height="9" fill="#fff"/>
<rect x="617" y="440" width="1" height="9" fill="#fff"/>
<rect x="626" y="256" width="1" height="5" fill="#fff"/>
<rect x="626" y="444" width="1" height="5" fill="#fff"/>
<rect x="636" y="256" width="1" height="5" fill="#fff"/>
<rect x="636" y="444" width="1" height="5" fill="#fff"/>
<rect x="646" y="256" width="1" height="5" fill="#fff"/>
<rect x="646" y="444" width="1" height="5" fill="#fff"/>
<rect x="656" y="256" width="1" height="5" fill="#fff"/>
<rect x="656" y="444" width="1" height="5" fill="#fff"/>
<rect x="666" y="256" width="1" height="5" fill="#fff"/>
<rect x="666" y="444" width="1" height="5" fill="#fff"/>
<rect x="675" y="256" width="1" height="5" fill="#fff"/>
<rect x="675" y="444" width="1" height="5" fill="#fff"/>
<rect x="685" y="256" width="1" height="5" fill="#fff"/>
<rect x="685" y="444" width="1" height="5" fill="#fff"/>
<rect x="695" y="256" width="1" height="5" fill="#fff"/>
<rect x="695" y="444" width="1" height="5" fill="#fff"/>
<rect x="705" y="256" width="1" height="9" fill="#fff"/>
<rect x="705" y="440" width="1" height="9" fill="#fff"/>
<rect x="715" y="256" width="1" height="5" fill="#fff"/>
<rect x="715" y="444" width="1" height="5" fill="#fff"/>
<rect x="724" y="256" width="1" height="5" fill="#fff"/>
<rect x="724" y="444" width="1" height="5" fill="#fff"/>
<rect x="734" y="256" width="1" height="5" fill="#fff"/>
<rect x="734" y="444" width="1" height="5" fill="#fff"/>
<rect x="744" y="256" width="1" height="5" fill="#fff"/>
<rect x="744" y="444" width="1" height="5" fill="#fff"/>
<rect x="754" y="256" width="1" height="5" fill="#fff"/>
<rect x="754" y="444" width="1" height="5" fill="#fff"/>
<rect x="764" y="256" width="1" height="5" fill="#fff"/>
<rect x="764" y="444" width="1" height="5" fill="#fff"/>
<rect x="773" y="256" width="1" height="5" fill="#fff"/>
<rect x="773" y="444" width="1" height="5" fill="#fff"/>
<rect x="783" y="256" width="1" height="5" fill="#fff"/>
<rect x="783" y="444" width="1" height="5" fill="#fff"/>
<rect x="793" y="256" width="1" height="9" fill="#fff"/>
<rect x="793" y="440" width="1" height="9" fill="#fff"/>
<rect x="803" y="256" width="1" height="5" fill="#fff"/>
<rect x="803" y="444" width="1" height="5" fill="#fff"/>
<rect x="813" y="256" width="1" height="5" fill="#fff"/>
<rect x="813" y="444" width="1" height="5" fill="#fff"/>
<rect x="822" y="256" width="1" height="5" fill="#fff"/>
<rect x="822" y="444" width="1" height="5" fill="#fff"/>
<rect x="210" y="501" width="620" height="1" fill="#fff"/>
<rect x="210" y="678" width="620" height="1" fill="#fff"/>
<rect x="210" y="501" width="1" height="178" fill="#fff"/>
<rect x="829" y="501" width="1" height="178" fill="#fff"/>
<rect x="214" y="502" width="1" height="5" fill="#fff"/>
<rect x="214" y="673" width="1" height="5" fill="#fff"/>
<rect x="224" y="502" width="1" height="5" fill="#fff"/>
<rect x="224" y="673" width="1" height="5" fill="#fff"/>
<rect x="235" y="502" width="1" height="5" fill="#fff"/>
<rect x="235" y="673" width="1" height="5" fill="#fff"/>
<rect x="244" y="502" width="1" height="5" fill="#fff"/>
<rect x="244" y="673" width="1" height="5" fill="#fff"/>
<rect x="254" y="502" width="1" height="5" fill="#fff"/>
<rect x="254" y="673" width="1" height="5" fill="#fff"/>
<rect x="264" y="502" width="1" height="9" fill="#fff"/>
<rect x="264" y="669" width="1" height="9" fill="#fff"/>
<rect x="274" y="502" width="1" height="5" fill="#fff"/>
<rect x="274" y="673" width="1" height="5" fill="#fff"/>
<rect x="284" y="502" width="1" height="5" fill="#fff"/>
<rect x="284" y="673" width="1" height="5" fill="#fff"/>
<rect x="293" y="502" width="1" height="5" fill="#fff"/>
<rect x="293" y="673" width="1" height="5" fill="#fff"/>
<rect x="303" y="502" width="1" height="5" fill="#fff"/>
<rect x="303" y="673" width="1" height="5" fill="#fff"/>
<rect x="313" y="502" width="1" height="5" fill="#fff"/>
<rect x="313" y="673" width="1" height="5" fill="#fff"/>
<rect x="323" y="502" width="1" height="5" fill="#fff"/>
<rect x="323" y="673" width="1" height="5" fill="#fff"/>
<rect x="333" y="502" width="1" height="5" fill="#fff"/>
<rect x="333" y="673" width="1" height="5" fill="#fff"/>
<rect x="342" y="502" width="1" height="5" fill="#fff"/>
<rect x="342" y="673" width="1" height="5" fill="#fff"/>
<rect x="352" y="502" width="1" height="9" fill="#fff"/>
<rect x="352" y="669" width="1" height="9" fill="#fff"/>
<rect x="362" y="502" width="1" height="5" fill="#fff"/>
<rect x="362" y="673" width="1" height="5" fill="#fff"/>
<rect x="372" y="502" width="1" height="5" fill="#fff"/>
<rect x="372" y="673" width="1" height="5" fill="#fff"/>
<rect x="382" y="502" width="1" height="5" fill="#fff"/>
<rect x="382" y="673" width="1" height="5" fill="#fff"/>
<rect x="391" y="502" width="1" height="5" fill="#fff"/>
<rect x="391" y="673" width="1" height="5" fill="#fff"/>
<rect x="401" y="502" width="1" height="5" fill="#fff"/>
<rect x="401" y="673" width="1" height="5" fill="#fff"/>
<rect x="411" y="502" width="1" height="5" fill="#fff"/>
<rect x="411" y="673" width="1" height="5" fill="#fff"/>
<rect x="421" y="502" width="1" height="5" fill="#fff"/>
<rect x="421" y="673" width="1" height="5" fill="#fff"/>
<rect x="431" y="502" width="1" height="5" fill="#fff"/>
<rect x="431" y="673" width="1" height="5" fill="#fff"/>
<rect x="440" y="502" width="1" height="9" fill="#fff"/>
<rect x="440" y="669" width="1" height="9" fill="#fff"/>
<rect x="450" y="502" width="1" height="5" fill="#fff"/>
<rect x="450" y="673" width="1" height="5" fill="#fff"/>
<rect x="460" y="502" width="1" height="5" fill="#fff"/>
<rect x="460" y="673" width="1" height="5" fill="#fff"/>
<rect x="470" y="502" width="1" height="5" fill="#fff"/>
<rect x="470" y="673" width="1" height="5" fill="#fff"/>
<rect x="480" y="502" width="1" height="5" fill="#fff"/>
<rect x="480" y="673" width="1" height="5" fill="#fff"/>
<rect x="489" y="502" width="1" height="5" fill="#fff"/>
<rect x="489" y="673" width="1" height="5" fill="#fff"/>
<rect x="499" y="502" width="1" height="5" fill="#fff"/>
<rect x="499" y="673" width="1" height="5" fill="#fff"/>
<rect x="509" y="502" width="1" height="5" fill="#fff"/>
<rect x="509" y="673" width="1" height="5" fill="#fff"/>
<rect x="519" y="502" width="1" height="5" fill="#fff"/>
<rect x="519" y="673" width="1" height="5" fill="#fff"/>
<rect x="529" y="502" width="1" height="9" fill="#fff"/>
<rect x="529" y="669" width="1" height="9" fill="#fff"/>
<rect x="538" y="502" width="1" height="5" fill="#fff"/>
<rect x="538" y="673" width="1" height="5" fill="#fff"/>
<rect x="548" y="502" width="1" height="5" fill="#fff"/>
<rect x="548" y="673" width="1" height="5" fill="#fff"/>
<rect x="558" y="502" width="1" height="5" fill="#fff"/>
<rect x="558" y="673" width="1" height="5" fill="#fff"/>
<rect x="568" y="502" width="1" height="5" fill="#fff"/>
<rect x="568" y="673" width="1" height="5" fill="#fff"/>
<rect x="577" y="502" width="1" height="5" fill="#fff"/>
<rect x="577" y="673" width="1" height="5" fill="#fff"/>
<rect x="587" y="502" width="1" height="5" fill="#fff"/>
<rect x="587" y="673" width="1" height="5" fill="#fff"/>
<rect x="597" y="502" width="1" height="5" fill="#fff"/>
<rect x="597" y="673" width="1" height="5" fill="#fff"/>
<rect x="607" y="502" width="1" height="5" fill="#fff"/>
<rect x="607" y="673" width="1" height="5" fill="#fff"/>
<rect x="617" y="502" width="1" height="9" fill="#fff"/>
<rect x="617" y="669" width="1" height="9" fill="#fff"/>
<rect x="626" y="502" width="1" height="5" fill="#fff"/>
<rect x="626" y="673" width="1" height="5" fill="#fff"/>
<rect x="636" y="502" width="1" height="5" fill="#fff"/>
<rect x="636" y="673" width="1" height="5" fill="#fff"/>
<rect x="646" y="502" width="1" height="5" fill="#fff"/>
<rect x="646" y="673" width="1" height="5" fill="#fff"/>
<rect x="656" y="502" width="1" height="5" fill="#fff"/>
<rect x="656" y="673" width="1" height="5" fill="#fff"/>
<rect x="666" y="502" width="1" height="5" fill="#fff"/>
<rect x="666" y="673" width="1" height="5" fill="#fff"/>
<rect x="675" y="502" width="1" height="5" fill="#fff"/>
<rect x="675" y="673" width="1" height="5" fill="#fff"/>
<rect x="685" y="502" width="1" height="5" fill="#fff"/>
<rect x="685" y="673" width="1" height="5" fill="#fff"/>
<rect x="695" y="502" width="1" height="5" fill="#fff"/>
<rect x="695" y="673" width="1" height="5" fill="#fff"/>
<rect x="705" y="502" width="1" height="9" fill="#fff"/>
<rect x="705" y="669" width="1" height="9" fill="#fff"/>
<rect x="715" y="502" width="1" height="5" fill="#fff"/>
<rect x="715" y="673" width="1" height="5" fill="#fff"/>
<rect x="724" y="502" width="1" height="5" fill="#fff"/>
<rect x="724" y="673" width="1" height="5" fill="#fff"/>
<rect x="734" y="502" width="1" height="5" fill="#fff"/>
<rect x="734" y="673" width="1" height="5" fill="#fff"/>
<rect x="744" y="502" width="1" height="5" fill="#fff"/>
<rect x="744" y="673" width="1" height="5" fill="#fff"/>
<rect x="754" y="502" width="1" height="5" fill="#fff"/>
<rect x="754" y="673" width="1" height="5" fill="#fff"/>
<rect x="764" y="502" width="1" height="5" fill="#fff"/>
<rect x="764" y="673" width="1" height="5" fill="#fff"/>
<rect x="773" y="502" width="1" height="5" fill="#fff"/>
<rect x="773" y="673" width="1" height="5" fill="#fff"/>
<rect x="783" y="502" width="1" height="5" fill="#fff"/>
<rect x="783" y="673" width="1" height="5" fill="#fff"/>
<rect x="793" y="502" width="1" height="9" fill="#fff"/>
<rect x="793" y="669" width="1" height="9" fill="#fff"/>
<rect x="803" y="502" width="1" height="5" fill="#fff"/>
<rect x="803" y="673" width="1" height="5" fill="#fff"/>
<rect x="813" y="502" width="1" height="5" fill="#fff"/>
<rect x="813" y="673" width="1" height="5" fill="#fff"/>
<rect x="822" y="502" width="1" height="5" fill="#fff"/>
<rect x="822" y="673" width="1" height="5" fill="#fff"/>
<rect x="201" y="501" width="9" height="1" fill="#fff"/>
<rect x="830" y="501" width="9" height="1" fill="#fff"/>
<rect x="204" y="508" width="6" height="1" fill="#fff"/>
<rect x="830" y="508" width="6" height="1" fill="#fff"/>
<rect x="204" y="515" width="6" height="1" fill="#fff"/>
<rect x="830" y="515" width="6" height="1" fill="#fff"/>
<rect x="204" y="522" width="6" height="1" fill="#fff"/>
<rect x="830" y="522" width="6" height="1" fill="#fff"/>
<rect x="204" y="529" width="6" height="1" fill="#fff"/>
<rect x="830" y="529" width="6" height="1" fill="#fff"/>
<rect x="201" y="536" width="9" height="1" fill="#fff"/>
<rect x="830" y="536" width="9" height="1" fill="#fff"/>
<rect x="204" y="543" width="6" height="1" fill="#fff"/>
<rect x="830" y="543" width="6" height="1" fill="#fff"/>
<rect x="204" y="551" width="6" height="1" fill="#fff"/>
<rect x="830" y="551" width="6" height="1" fill="#fff"/>
<rect x="204" y="558" width="6" height="1" fill="#fff"/>
<rect x="830" y="558" width="6" height="1" fill="#fff"/>
<rect x="204" y="565" width="6" height="1" fill="#fff"/>
<rect x="830" y="565" width="6" height="1" fill="#fff"/>
<rect x="201" y="572" width="9" height="1" fill="#fff"/>
<rect x="830" y="572" width="9" height="1" fill="#fff"/>
<rect x="204" y="579" width="6" height="1" fill="#fff"/>
<rect x="830" y="579" width="6" height="1" fill="#fff"/>
<rect x="204" y="586" width="6" height="1" fill="#fff"/>
<rect x="830" y="586" width="6" height="1" fill="#fff"/>
<rect x="204" y="593" width="6" height="1" fill="#fff"/>
<rect x="830" y="593" width="6" height="1" fill="#fff"/>
<rect x="204" y="600" width="6" height="1" fill="#fff"/>
<rect x="830" y="600" width="6" height="1" fill="#fff"/>
<rect x="201" y="607" width="9" height="1" fill="#fff"/>
<rect x="830" y="607" width="9" height="1" fill="#fff"/>
<rect x="204" y="614" width="6" height="1" fill="#fff"/>
<rect x="830" y="614" width="6" height="1" fill="#fff"/>
<rect x="204" y="621" width="6" height="1" fill="#fff"/>
<rect x="830" y="621" width="6" height="1" fill="#fff"/>
<rect x="204" y="628" width="6" height="1" fill="#fff"/>
<rect x="830" y="628" width="6" height="1" fill="#fff"/>
<rect x="204" y="636" width="6" height="1" fill="#fff"/>
<rect x="830" y="636" width="6" height="1" fill="#fff"/>
<rect x="201" y="643" width="9" height="1" fill="#fff"/>
<rect x="830" y="643" width="9" height="1" fill="#fff"/>
<rect x="204" y="650" width="6" height="1" fill="#fff"/>
<rect x="830" y="650" width="6" height="1" fill="#fff"/>
<rect x="204" y="657" width="6" height="1" fill="#fff"/>
<rect x="830" y="657" width="6" height="1" fill="#fff"/>
<rect x="204" y="664" width="6" height="1" fill="#fff"/>
<rect x="830" y="664" width="6" height="1" fill="#fff"/>
<rect x="204" y="671" width="6" height="1" fill="#fff"/>
<rect x="830" y="671" width="6" height="1" fill="#fff"/>
<rect x="201" y="678" width="9" height="1" fill="#fff"/>
<rect x="830" y="678" width="9" height="1" fill="#fff"/>
<defs><linearGradient id="cb1" x1="0" y1="77" x2="0" y2="204" gradientUnits="userSpaceOnUse">
<stop offset="0.000" stop-color="#ff0000"/>
<stop offset="0.200" stop-color="#ffff00"/>
<stop offset="0.400" stop-color="#00ff00"/>
<stop offset="0.600" stop-color="#00ffff"/>
<stop offset="0.800" stop-color="#0000ff"/>
<stop offset="1.000" stop-color="#7d00ff"/>
</linearGradient></defs>
<rect x="850" y="77" width="33" height="128" fill="#fff"/>
<rect x="851" y="78" width="31" height="126" fill="url(#cb1)"/>
<defs><linearGradient id="cb2" x1="0" y1="275" x2="0" y2="429" gradientUnits="userSpaceOnUse">
<stop offset="0.000" stop-color="#ff0000"/>
<stop offset="0.200" stop-color="#ffff00"/>
<stop offset="0.400" stop-color="#00ff00"/>
<stop offset="0.600" stop-color="#00ffff"/>
<stop offset="0.800" stop-color="#0000ff"/>
<stop offset="1.000" stop-color="#7d00ff"/>
</linearGradient></defs>
<rect x="850" y="275" width="33" height="155" fill="#fff"/>
<rect x="851" y="276" width="31" height="153" fill="url(#cb2)"/>
<rect x="878" y="191" width="4" height="1" fill="#fff"/>
<rect x="878" y="178" width="4" height="1" fill="#fff"/>
<rect x="878" y="171" width="4" height="1" fill="#fff"/>
<rect x="878" y="165" width="4" height="1" fill="#fff"/>
<rect x="875" y="161" width="7" height="1" fill="#fff"/>
<rect x="878" y="148" width="4" height="1" fill="#fff"/>
<rect x="878" y="136" width="4" height="1" fill="#fff"/>
<rect x="878" y="128" width="4" height="1" fill="#fff"/>
<rect x="878" y="123" width="4" height="1" fill="#fff"/>
<rect x="875" y="119" width="7" height="1" fill="#fff"/>
<rect x="878" y="106" width="4" height="1" fill="#fff"/>
<rect x="878" y="93" width="4" height="1" fill="#fff"/>
<rect x="878" y="86" width="4" height="1" fill="#fff"/>
<rect x="878" y="81" width="4" height="1" fill="#fff"/>
<rect x="878" y="282" width="4" height="1" fill="#fff"/>
<rect x="878" y="290" width="4" height="1" fill="#fff"/>
<rect x="878" y="298" width="4" height="1" fill="#fff"/>
<rect x="878" y="306" width="4" height="1" fill="#fff"/>
<rect x="875" y="313" width="7" height="1" fill="#fff"/>
<rect x="878" y="321" width="4" height="1" fill="#fff"/>
<rect x="878" y="329" width="4" height="1" fill="#fff"/>
<rect x="878" y="336" width="4" height="1" fill="#fff"/>
<rect x="878" y="344" width="4" height="1" fill="#fff"/>
<rect x="875" y="352" width="7" height="1" fill="#fff"/>
<rect x="878" y="360" width="4" height="1" fill="#fff"/>
<rect x="878" y="367" width="4" height="1" fill="#fff"/>
<rect x="878" y="375" width="4" height="1" fill="#fff"/>
<rect x="878" y="383" width="4" height="1" fill="#fff"/>
<rect x="875" y="390" width="7" height="1" fill="#fff"/>
<rect x="878" y="398" width="4" height="1" fill="#fff"/>
<rect x="878" y="406" width="4" height="1" fill="#fff"/>
<rect x="878" y="413" width="4" height="1" fill="#fff"/>
<rect x="878" y="422" width="4" height="1" fill="#fff"/>
</g>
<rect x="244" y="572" width="4" height="1" fill="#fff"/>
<rect x="249" y="572" width="14" height="1" fill="#fff"/>
<rect x="264" y="572" width="15" height="1" fill="#fff"/>
<rect x="280" y="572" width="8" height="1" fill="#fff"/>
<rect x="288" y="577" width="1" height="1" fill="#fff"/>
<rect x="289" y="607" width="5" height="1" fill="#fff"/>
<rect x="295" y="607" width="15" height="1" fill="#fff"/>
<rect x="311" y="607" width="14" height="1" fill="#fff"/>
<rect x="326" y="607" width="15" height="1" fill="#fff"/>
<rect x="342" y="607" width="14" height="1" fill="#fff"/>
<rect x="357" y="607" width="15" height="1" fill="#fff"/>
<rect x="373" y="607" width="14" height="1" fill="#fff"/>
<rect x="388" y="607" width="15" height="1" fill="#fff"/>
<rect x="404" y="607" width="15" height="1" fill="#fff"/>
<rect x="420" y="607" width="14" height="1" fill="#fff"/>
<rect x="435" y="607" width="15" height="1" fill="#fff"/>
<rect x="451" y="607" width="14" height="1" fill="#fff"/>
<rect x="466" y="643" width="15" height="1" fill="#fff"/>
<rect x="482" y="643" width="14" height="1" fill="#fff"/>
<rect x="497" y="643" width="15" height="1" fill="#fff"/>
<rect x="513" y="643" width="14" height="1" fill="#fff"/>
<rect x="528" y="643" width="15" height="1" fill="#fff"/>
<rect x="544" y="643" width="14" height="1" fill="#fff"/>
<rect x="559" y="643" width="15" height="1" fill="#fff"/>
<rect x="575" y="643" width="14" height="1" fill="#fff"/>
<rect x="590" y="643" width="15" height="1" fill="#fff"/>
<rect x="606" y="643" width="14" height="1" fill="#fff"/>
<rect x="621" y="643" width="15" height="1" fill="#fff"/>
<rect x="637" y="643" width="14" height="1" fill="#fff"/>
<rect x="652" y="643" width="15" height="1" fill="#fff"/>
<rect x="668" y="643" width="14" height="1" fill="#fff"/>
<rect x="683" y="643" width="15" height="1" fill="#fff"/>
<rect x="699" y="643" width="14" height="1" fill="#fff"/>
<rect x="714" y="643" width="15" height="1" fill="#fff"/>
<rect x="730" y="643" width="14" height="1" fill="#fff"/>
<rect x="745" y="643" width="15" height="1" fill="#fff"/>
<rect x="761" y="643" width="14" height="1" fill="#fff"/>
<rect x="776" y="643" width="15" height="1" fill="#fff"/>
<rect x="792" y="643" width="2" height="1" fill="#fff"/>
<rect x="795" y="607" width="4" height="1" fill="#fff"/>
<rect x="794" y="619" width="1" height="1" fill="#fff"/>
<path d="M211.0 585h4.2v1h-4.2zM216.9 586h4.2v1h-4.2zM222.8 587h4.2v1h-4.2zM228.7 588h4.2v1h-4.2zM234.6 588h4.2v1h-4.2zM240.5 589h4.2v1h-4.2zM246.4 590h4.2v1h-4.2zM252.3 591h4.2v1h-4.2zM258.2 591h4.2v1h-4.2zM264.1 592h4.2v1h-4.2zM270.0 593h4.2v1h-4.2zM275.9 593h4.2v1h-4.2zM281.8 594h4.2v1h-4.2zM287.7 595h4.2v1h-4.2zM293.6 596h4.2v1h-4.2zM299.5 597h4.2v1h-4.2zM305.4 597h4.2v1h-4.2zM311.3 598h4.2v1h-4.2zM317.2 599h4.2v1h-4.2zM323.1 600h4.2v1h-4.2zM329.0 601h4.2v1h-4.2zM334.9 602h4.2v1h-4.2zM340.8 603h4.2v1h-4.2zM346.7 603h4.2v1h-4.2zM352.6 604h4.2v1h-4.2zM358.5 605h4.2v1h-4.2zM364.4 606h4.2v1h-4.2zM370.3 607h4.2v1h-4.2zM376.2 607h4.2v1h-4.2zM382.1 608h4.2v1h-4.2zM388.0 609h4.2v1h-4.2zM393.9 610h4.2v1h-4.2zM399.8 610h4.2v1h-4.2zM405.7 611h4.2v1h-4.2zM411.6 612h4.2v1h-4.2zM417.5 613h4.2v1h-4.2zM423.4 613h4.2v1h-4.2zM429.3 614h4.2v1h-4.2zM435.2 615h4.2v1h-4.2zM441.1 616h4.2v1h-4.2zM447.0 616h4.2v1h-4.2zM452.9 617h4.2v1h-4.2zM458.8 618h4.2v1h-4.2zM464.7 618h4.2v1h-4.2zM470.6 619h4.2v1h-4.2zM476.5 619h4.2v1h-4.2zM482.4 620h4.2v1h-4.2zM488.3 620h4.2v1h-4.2zM494.2 621h4.2v1h-4.2zM500.1 622h4.2v1h-4.2zM506.0 622h4.2v1h-4.2zM511.9 623h4.2v1h-4.2zM517.8 623h4.2v1h-4.2zM523.7 624h4.2v1h-4.2zM529.6 624h4.2v1h-4.2zM535.5 625h4.2v1h-4.2zM541.4 625h4.2v1h-4.2zM547.3 626h4.2v1h-4.2zM553.2 626h4.2v1h-4.2zM559.1 626h4.2v1h-4.2zM565.0 627h4.2v1h-4.2zM570.9 627h4.2v1h-4.2zM576.8 627h4.2v1h-4.2zM582.7 627h4.2v1h-4.2zM588.6 627h4.2v1h-4.2zM594.5 627h4.2v1h-4.2zM600.4 627h4.2v1h-4.2zM606.3 627h4.2v1h-4.2zM612.2 627h4.2v1h-4.2zM618.1 627h4.2v1h-4.2zM624.0 627h4.2v1h-4.2zM629.9 626h4.2v1h-4.2zM635.8 626h4.2v1h-4.2zM641.7 625h4.2v1h-4.2zM647.6 625h4.2v1h-4.2zM653.5 624h4.2v1h-4.2zM659.4 623h4.2v1h-4.2zM665.3 623h4.2v1h-4.2zM671.2 622h4.2v1h-4.2zM677.1 621h4.2v1h-4.2zM683.0 620h4.2v1h-4.2zM688.9 619h4.2v1h-4.2zM694.8 618h4.2v1h-4.2zM700.7 617h4.2v1h-4.2zM706.6 616h4.2v1h-4.2zM712.5 614h4.2v1h-4.2zM718.4 613h4.2v1h-4.2zM724.3 611h4.2v1h-4.2zM730.2 610h4.2v1h-4.2zM736.1 608h4.2v1h-4.2zM742.0 607h4.2v1h-4.2zM747.9 605h4.2v1h-4.2zM753.8 603h4.2v1h-4.2zM759.7 601h4.2v1h-4.2zM765.6 599h4.2v1h-4.2zM771.5 597h4.2v1h-4.2zM777.4 595h4.2v1h-4.2zM783.3 593h4.2v1h-4.2zM789.2 591h4.2v1h-4.2zM795.1 589h4.2v1h-4.2zM801.0 587h4.2v1h-4.2zM806.9 585h4.2v1h-4.2zM812.8 583h4.2v1h-4.2zM818.7 581h4.2v1h-4.2zM824.6 579h4.2v1h-4.2z" fill="#00ff00" shape-rendering="crispEdges"/>
<text x="419.81" y="30.40" font-size="17.73" textLength="199.78" lengthAdjust="spacing" fill="#fff" color="#fff">2018/186 13:06:00.000</text>
<text x="263.65" y="52.10" font-size="16.42" textLength="251.02" lengthAdjust="spacing" fill="#fff" color="#fff">ELSSCIL/MEx ELS-07 LR-Bk</text>
<text x="532.18" y="52.10" font-size="16.42" textLength="244.54" lengthAdjust="spacing" fill="#fff" color="#fff">(ergs/(cm**2-sr-sec-eV))</text>
<text transform="translate(70.20,206.03) rotate(-90)" font-size="17.44" textLength="132.56" lengthAdjust="spacing" fill="#fff" color="#fff">Electron Energy</text>
<text transform="translate(88.60,158.08) rotate(-90)" font-size="17.44" textLength="34.86" lengthAdjust="spacing" fill="#fff" color="#fff">(eV)</text>
<text x="174.78" y="86.00" font-size="14.68" textLength="14.89" lengthAdjust="spacing" fill="#fff" color="#fff">10</text>
<text x="189.45" y="79" font-size="8.58" textLength="5.01" lengthAdjust="spacingAndGlyphs" fill="#fff" color="#fff">2</text>
<text x="174.78" y="155.00" font-size="14.68" textLength="14.89" lengthAdjust="spacing" fill="#fff" color="#fff">10</text>
<text x="189.18" y="148" font-size="8.58" textLength="5.29" lengthAdjust="spacingAndGlyphs" fill="#fff" color="#fff">1</text>
<text x="174.78" y="225.00" font-size="14.68" textLength="14.89" lengthAdjust="spacing" fill="#fff" color="#fff">10</text>
<text x="189.56" y="218" font-size="8.58" textLength="4.77" lengthAdjust="spacingAndGlyphs" fill="#fff" color="#fff">0</text>
<text x="117.22" y="238.50" font-size="13.46" textLength="65.11" lengthAdjust="spacing" fill="#fff" color="#fff">GMT(min)</text>
<text x="117.22" y="467.50" font-size="13.46" textLength="65.11" lengthAdjust="spacing" fill="#fff" color="#fff">GMT(min)</text>
<text x="117.22" y="696.70" font-size="13.46" textLength="65.11" lengthAdjust="spacing" fill="#fff" color="#fff">GMT(min)</text>
<text x="246.70" y="238.40" font-size="13.08" textLength="33.55" lengthAdjust="spacing" fill="#fff" color="#fff">13:15</text>
<text x="333.22" y="238.40" font-size="13.08" textLength="36.81" lengthAdjust="spacing" fill="#fff" color="#fff">13:30</text>
<text x="421.39" y="238.40" font-size="13.08" textLength="36.85" lengthAdjust="spacing" fill="#fff" color="#fff">13:45</text>
<text x="509.56" y="238.40" font-size="13.08" textLength="36.81" lengthAdjust="spacing" fill="#fff" color="#fff">14:00</text>
<text x="599.38" y="238.40" font-size="13.08" textLength="33.55" lengthAdjust="spacing" fill="#fff" color="#fff">14:15</text>
<text x="685.90" y="238.40" font-size="13.08" textLength="36.81" lengthAdjust="spacing" fill="#fff" color="#fff">14:30</text>
<text x="774.07" y="238.40" font-size="13.08" textLength="36.85" lengthAdjust="spacing" fill="#fff" color="#fff">14:45</text>
<text x="246.70" y="467.40" font-size="13.08" textLength="33.55" lengthAdjust="spacing" fill="#fff" color="#fff">13:15</text>
<text x="333.22" y="467.40" font-size="13.08" textLength="36.81" lengthAdjust="spacing" fill="#fff" color="#fff">13:30</text>
<text x="421.39" y="467.40" font-size="13.08" textLength="36.85" lengthAdjust="spacing" fill="#fff" color="#fff">13:45</text>
<text x="509.56" y="467.40" font-size="13.08" textLength="36.81" lengthAdjust="spacing" fill="#fff" color="#fff">14:00</text>
<text x="599.38" y="467.40" font-size="13.08" textLength="33.55" lengthAdjust="spacing" fill="#fff" color="#fff">14:15</text>
<text x="685.90" y="467.40" font-size="13.08" textLength="36.81" lengthAdjust="spacing" fill="#fff" color="#fff">14:30</text>
<text x="774.07" y="467.40" font-size="13.08" textLength="36.85" lengthAdjust="spacing" fill="#fff" color="#fff">14:45</text>
<text x="246.70" y="696.60" font-size="13.08" textLength="33.55" lengthAdjust="spacing" fill="#fff" color="#fff">13:15</text>
<text x="333.22" y="696.60" font-size="13.08" textLength="36.81" lengthAdjust="spacing" fill="#fff" color="#fff">13:30</text>
<text x="421.39" y="696.60" font-size="13.08" textLength="36.85" lengthAdjust="spacing" fill="#fff" color="#fff">13:45</text>
<text x="509.56" y="696.60" font-size="13.08" textLength="36.81" lengthAdjust="spacing" fill="#fff" color="#fff">14:00</text>
<text x="599.38" y="696.60" font-size="13.08" textLength="33.55" lengthAdjust="spacing" fill="#fff" color="#fff">14:15</text>
<text x="685.90" y="696.60" font-size="13.08" textLength="36.81" lengthAdjust="spacing" fill="#fff" color="#fff">14:30</text>
<text x="774.07" y="696.60" font-size="13.08" textLength="36.85" lengthAdjust="spacing" fill="#fff" color="#fff">14:45</text>
<text x="849.95" y="59.80" font-size="17.73" textLength="32.76" lengthAdjust="spacing" fill="#fff" color="#fff">DEF</text>
<text x="893.45" y="83.10" font-size="19.04" textLength="18.49" lengthAdjust="spacing" fill="#fff" color="#fff">10</text>
<text x="913.09" y="74.1" font-size="16.94" textLength="6.82" lengthAdjust="spacingAndGlyphs" fill="#fff" color="#fff">-</text>
<text x="921.6" y="72.9" font-size="11.34" textLength="5.87" lengthAdjust="spacingAndGlyphs" fill="#fff" color="#fff">3</text>
<text x="893.45" y="125.10" font-size="19.04" textLength="18.49" lengthAdjust="spacing" fill="#fff" color="#fff">10</text>
<text x="913.09" y="116.1" font-size="16.94" textLength="6.82" lengthAdjust="spacingAndGlyphs" fill="#fff" color="#fff">-</text>
<text x="921.77" y="114.9" font-size="11.34" textLength="5.52" lengthAdjust="spacingAndGlyphs" fill="#fff" color="#fff">4</text>
<text x="893.45" y="167.10" font-size="19.04" textLength="18.49" lengthAdjust="spacing" fill="#fff" color="#fff">10</text>
<text x="913.09" y="158.1" font-size="16.94" textLength="6.82" lengthAdjust="spacingAndGlyphs" fill="#fff" color="#fff">-</text>
<text x="921.58" y="156.9" font-size="11.34" textLength="5.87" lengthAdjust="spacingAndGlyphs" fill="#fff" color="#fff">5</text>
<text x="893.45" y="209.10" font-size="19.04" textLength="18.49" lengthAdjust="spacing" fill="#fff" color="#fff">10</text>
<text x="913.09" y="200.1" font-size="16.94" textLength="6.82" lengthAdjust="spacingAndGlyphs" fill="#fff" color="#fff">-</text>
<text x="921.45" y="198.9" font-size="11.34" textLength="6.03" lengthAdjust="spacingAndGlyphs" fill="#fff" color="#fff">6</text>
<text x="73.31" y="268.60" font-size="13.23" textLength="130.27" lengthAdjust="spacing" fill="#fff" color="#fff">ELS-11 Pitch Angle</text>
<text x="69.51" y="286.15" font-size="13.23" textLength="134.07" lengthAdjust="spacing" fill="#fff" color="#fff">ELS-10 Pitch Angle</text>
<text x="66.51" y="303.70" font-size="13.23" textLength="137.07" lengthAdjust="spacing" fill="#fff" color="#fff">ELS-09 Pitch Angle</text>
<text x="66.51" y="321.25" font-size="13.23" textLength="137.07" lengthAdjust="spacing" fill="#fff" color="#fff">ELS-08 Pitch Angle</text>
<text x="66.51" y="338.80" font-size="13.23" textLength="137.07" lengthAdjust="spacing" fill="#fff" color="#fff">ELS-07 Pitch Angle</text>
<text x="66.51" y="356.35" font-size="13.23" textLength="137.07" lengthAdjust="spacing" fill="#fff" color="#fff">ELS-06 Pitch Angle</text>
<text x="66.51" y="373.90" font-size="13.23" textLength="137.07" lengthAdjust="spacing" fill="#fff" color="#fff">ELS-05 Pitch Angle</text>
<text x="66.51" y="391.45" font-size="13.23" textLength="137.07" lengthAdjust="spacing" fill="#fff" color="#fff">ELS-04 Pitch Angle</text>
<text x="66.51" y="409.00" font-size="13.23" textLength="137.07" lengthAdjust="spacing" fill="#fff" color="#fff">ELS-03 Pitch Angle</text>
<text x="66.51" y="426.55" font-size="13.23" textLength="137.07" lengthAdjust="spacing" fill="#fff" color="#fff">ELS-02 Pitch Angle</text>
<text x="70.31" y="444.10" font-size="13.23" textLength="133.27" lengthAdjust="spacing" fill="#fff" color="#fff">ELS-01 Pitch Angle</text>
<text x="850.26" y="257.80" font-size="17.59" textLength="33.38" lengthAdjust="spacing" fill="#fff" color="#fff">Deg</text>
<text x="893.87" y="280.40" font-size="17.44" textLength="29.81" lengthAdjust="spacing" fill="#fff" color="#fff">180</text>
<text x="893.87" y="318.90" font-size="17.44" textLength="29.86" lengthAdjust="spacing" fill="#fff" color="#fff">135</text>
<text x="894.38" y="357.40" font-size="17.44" textLength="22.30" lengthAdjust="spacing" fill="#fff" color="#fff">90</text>
<text x="894.80" y="395.90" font-size="17.44" textLength="21.93" lengthAdjust="spacing" fill="#fff" color="#fff">45</text>
<text x="894.42" y="434.4" font-size="17.44" textLength="11.17" lengthAdjust="spacingAndGlyphs" fill="#fff" color="#fff">0</text>
<text x="211.17" y="491.90" font-size="15.99" textLength="238.22" lengthAdjust="spacing" fill="#fff" color="#fff">SAF_BXuT/Data Quality (L)</text>
<text x="529.59" y="491.80" font-size="17.15" textLength="300.17" lengthAdjust="spacing" fill="#00ff00" color="#00ff00">MEXORBMC/SPF X, Spacecraft (R)</text>
<text x="186.68" y="505.9" font-size="15.7" textLength="7.73" lengthAdjust="spacingAndGlyphs" fill="#fff" color="#fff">4</text>
<text x="186.98" y="541.3" font-size="15.7" textLength="7.62" lengthAdjust="spacingAndGlyphs" fill="#fff" color="#fff">3</text>
<text x="186.23" y="576.7" font-size="15.7" textLength="8.55" lengthAdjust="spacingAndGlyphs" fill="#fff" color="#fff">2</text>
<text x="189.53" y="612.1" font-size="15.7" textLength="4.9" lengthAdjust="spacingAndGlyphs" fill="#fff" color="#fff">1</text>
<text x="186.43" y="647.5" font-size="15.7" textLength="8.14" lengthAdjust="spacingAndGlyphs" fill="#fff" color="#fff">0</text>
<text x="180.50" y="682.90" font-size="15.70" textLength="14.26" lengthAdjust="spacing" fill="#fff" color="#fff">-1</text>
<text x="844.35" y="505.80" font-size="15.12" textLength="56.09" lengthAdjust="spacing" fill="#fff" color="#fff">1.0e+04</text>
<text x="846.13" y="541.20" font-size="15.12" textLength="57.63" lengthAdjust="spacing" fill="#fff" color="#fff">6.0e+03</text>
<text x="845.24" y="576.60" font-size="15.12" textLength="58.72" lengthAdjust="spacing" fill="#fff" color="#fff">2.0e+03</text>
<text x="846.33" y="612.00" font-size="15.12" textLength="68.34" lengthAdjust="spacing" fill="#fff" color="#fff">-2.0e+03</text>
<text x="846.33" y="647.40" font-size="15.12" textLength="68.34" lengthAdjust="spacing" fill="#fff" color="#fff">-6.0e+03</text>
<text x="846.33" y="682.80" font-size="15.12" textLength="64.81" lengthAdjust="spacing" fill="#fff" color="#fff">-1.0e+04</text>
<text transform="translate(70.00,662.33) rotate(-90)" font-size="17.44" textLength="144.76" lengthAdjust="spacing" fill="#fff" color="#fff">Raw Data Quality</text>
<text transform="translate(88.60,612.68) rotate(-90)" font-size="17.44" textLength="46.76" lengthAdjust="spacing" fill="#fff" color="#fff">(Raw)</text>
<text transform="translate(971.00,502.43) rotate(90)" font-size="17.19" textLength="173.64" lengthAdjust="spacing" fill="#fff" color="#fff">Component Distance</text>
<text transform="translate(953.00,568.47) rotate(90)" font-size="16.56" textLength="41.15" lengthAdjust="spacing" fill="#fff" color="#fff">(km)</text>
</svg></body></html>
